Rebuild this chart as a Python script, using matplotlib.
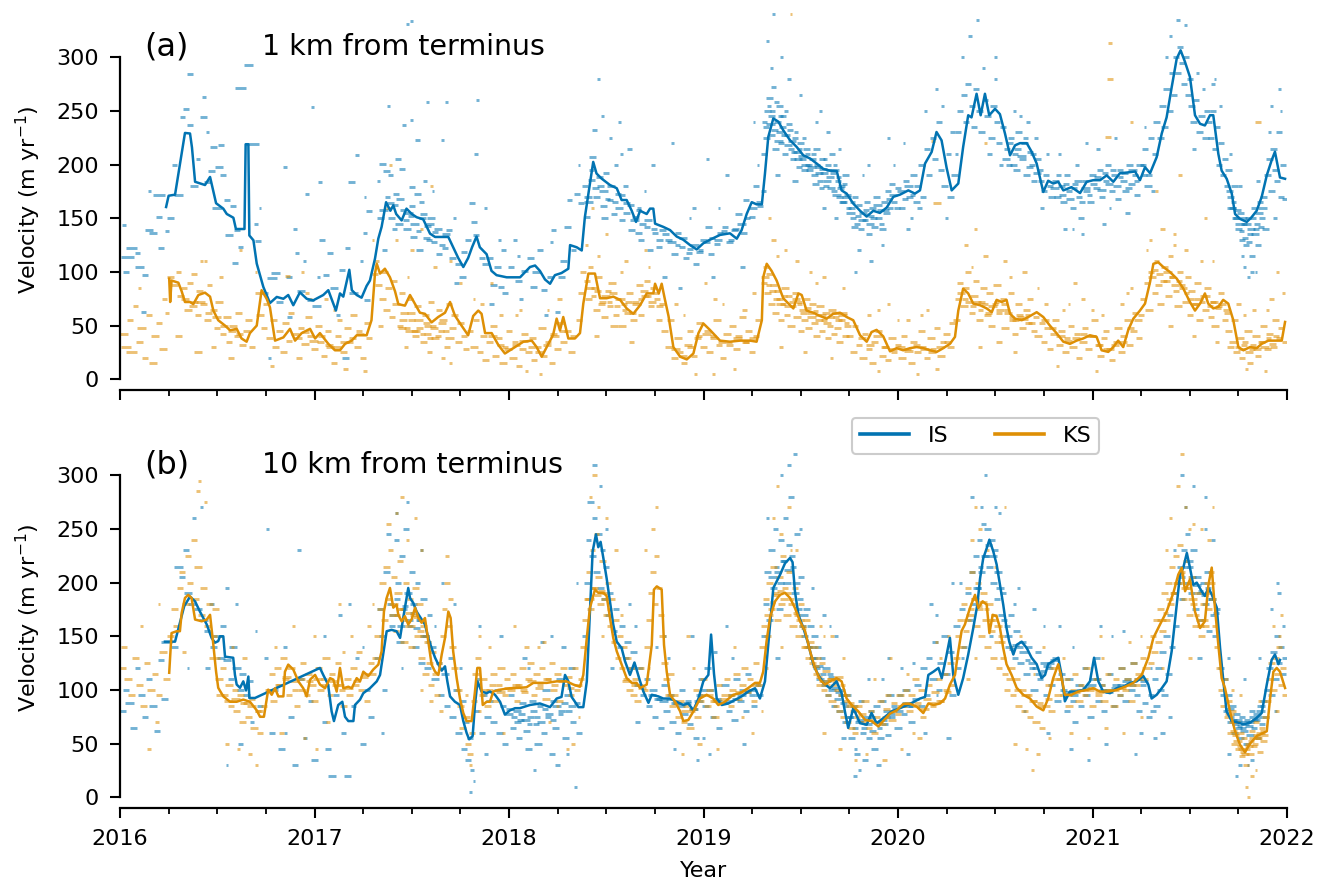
import numpy as np
import matplotlib
matplotlib.use("Agg")
import matplotlib.pyplot as plt
from matplotlib.collections import LineCollection
from matplotlib.lines import Line2D
from matplotlib.ticker import MultipleLocator

IS_COLOR = "#0173b2"
KS_COLOR = "#de8f05"

YEARS = [2016, 2017, 2018, 2019, 2020, 2021, 2022]
Y_TICKS = [0, 50, 100, 150, 200, 250, 300]
SERIES = ["IS", "KS"]

# ---------------------------------------------------------------------------
# Smoothed velocity records (decimal year, m/yr)
# ---------------------------------------------------------------------------
is_1km_line = [
    (2016.237, 160.5), (2016.25, 171), (2016.283, 172), (2016.334, 229.5), (2016.36, 229),
    (2016.37, 216), (2016.386, 184), (2016.437, 181), (2016.463, 188.5), (2016.494, 164),
    (2016.531, 159), (2016.549, 154), (2016.583, 150.5), (2016.596, 140), (2016.640, 140),
    (2016.646, 219), (2016.660, 219), (2016.665, 134), (2016.686, 129.5), (2016.703, 107.8),
    (2016.737, 86), (2016.771, 71), (2016.806, 76.7), (2016.84, 75), (2016.865, 78.5),
    (2016.891, 69), (2016.925, 81), (2016.96, 75), (2016.993, 73.5), (2017.045, 78.5),
    (2017.071, 83), (2017.11, 64), (2017.131, 80), (2017.148, 77), (2017.179, 102),
    (2017.192, 83), (2017.217, 78.5), (2017.242, 76), (2017.268, 87), (2017.285, 92),
    (2017.311, 112.4), (2017.328, 131), (2017.345, 142), (2017.368, 165), (2017.39, 157),
    (2017.405, 162), (2017.42, 154), (2017.448, 148), (2017.473, 159), (2017.5, 154),
    (2017.525, 151), (2017.559, 149), (2017.594, 135.7), (2017.62, 132.6), (2017.688, 132.6),
    (2017.713, 123), (2017.739, 113), (2017.765, 104.6), (2017.79, 113), (2017.81, 123),
    (2017.833, 133), (2017.85, 123), (2017.885, 116.5), (2017.91, 101), (2017.936, 97),
    (2017.988, 95), (2018.005, 95), (2018.057, 95), (2018.108, 104.6), (2018.134, 106),
    (2018.159, 101), (2018.185, 93), (2018.211, 89), (2018.236, 97), (2018.27, 99),
    (2018.305, 103), (2018.314, 125), (2018.348, 123), (2018.374, 120), (2018.39, 151),
    (2018.416, 182), (2018.433, 202.5), (2018.45, 191.7), (2018.476, 187), (2018.519, 181),
    (2018.554, 178), (2018.579, 167), (2018.605, 167), (2018.631, 157), (2018.653, 146.6),
    (2018.674, 157), (2018.708, 154), (2018.725, 159), (2018.742, 159), (2018.751, 145),
    (2018.793, 142), (2018.828, 139), (2018.862, 133), (2018.896, 130), (2018.931, 125),
    (2018.965, 121), (2018.999, 126.7), (2019.033, 130), (2019.085, 134.5), (2019.136, 136),
    (2019.171, 131), (2019.196, 139), (2019.222, 154), (2019.248, 165), (2019.273, 163),
    (2019.30, 163), (2019.316, 191.7), (2019.333, 225.8), (2019.359, 243), (2019.385, 240),
    (2019.41, 232), (2019.445, 222.7), (2019.479, 216.5), (2019.513, 208.7), (2019.548, 205.7),
    (2019.582, 201), (2019.616, 196), (2019.65, 194.4), (2019.685, 194), (2019.71, 176),
    (2019.736, 173), (2019.77, 163.7), (2019.805, 157), (2019.839, 151.6), (2019.873, 157),
    (2019.907, 155), (2019.942, 160), (2019.976, 170), (2020.01, 172), (2020.053, 176),
    (2020.087, 173), (2020.113, 176), (2020.139, 201), (2020.173, 211.8), (2020.198, 230.4),
    (2020.224, 222.6), (2020.25, 197), (2020.276, 176), (2020.31, 182.4), (2020.335, 216.5),
    (2020.361, 246), (2020.378, 244), (2020.404, 266), (2020.425, 246), (2020.447, 266),
    (2020.469, 246), (2020.499, 252), (2020.524, 247), (2020.55, 229), (2020.576, 208.7),
    (2020.602, 218), (2020.627, 220), (2020.662, 220), (2020.687, 212), (2020.713, 201),
    (2020.747, 174.5), (2020.772, 185), (2020.798, 182.4), (2020.824, 184), (2020.85, 176),
    (2020.892, 179), (2020.936, 173.5), (2020.97, 184), (2021.004, 185.5), (2021.039, 185.5),
    (2021.073, 190), (2021.107, 184), (2021.141, 192), (2021.176, 192.6), (2021.219, 193.6),
    (2021.244, 185.5), (2021.27, 197.6), (2021.296, 192), (2021.33, 207), (2021.356, 229),
    (2021.381, 244), (2021.407, 272), (2021.433, 298.8), (2021.453, 306.5), (2021.475, 296),
    (2021.501, 281.7), (2021.527, 246), (2021.553, 238), (2021.578, 236.5), (2021.604, 246),
    (2021.621, 246), (2021.647, 210), (2021.664, 194.4), (2021.69, 186.8), (2021.716, 173),
    (2021.733, 154), (2021.758, 149.5), (2021.793, 146.6), (2021.818, 151), (2021.844, 157),
    (2021.87, 170), (2021.896, 190), (2021.921, 204), (2021.938, 212), (2021.964, 188),
    (2021.99, 186.8),
]

ks_1km_line = [
    (2016.253, 93.8), (2016.258, 72), (2016.265, 92), (2016.30, 90), (2016.317, 82),
    (2016.334, 72), (2016.36, 72), (2016.377, 70), (2016.403, 78.5), (2016.437, 80.7),
    (2016.463, 77), (2016.48, 64), (2016.505, 55), (2016.54, 50), (2016.566, 45.6),
    (2016.60, 47), (2016.625, 38), (2016.651, 35), (2016.668, 43), (2016.703, 50),
    (2016.728, 83), (2016.754, 75), (2016.771, 67), (2016.797, 36), (2016.84, 39),
    (2016.874, 47), (2016.90, 36), (2016.934, 43), (2016.977, 47), (2017.003, 38),
    (2017.028, 43), (2017.071, 33), (2017.105, 27), (2017.131, 27), (2017.157, 33),
    (2017.191, 36), (2017.217, 41), (2017.268, 41), (2017.293, 55), (2017.311, 98.5),
    (2017.32, 107.6), (2017.337, 98.5), (2017.362, 103), (2017.388, 95), (2017.414, 82),
    (2017.431, 70), (2017.465, 68.6), (2017.491, 78.5), (2017.517, 70), (2017.542, 62),
    (2017.568, 61), (2017.602, 53), (2017.636, 58), (2017.671, 62), (2017.697, 72),
    (2017.722, 59.3), (2017.756, 50), (2017.79, 41), (2017.816, 59), (2017.842, 64),
    (2017.859, 61), (2017.877, 43), (2017.911, 43), (2017.945, 32), (2017.979, 24),
    (2018.005, 27), (2018.031, 30), (2018.074, 35), (2018.117, 36), (2018.142, 30),
    (2018.168, 21), (2018.194, 30), (2018.227, 41.5), (2018.245, 56.5), (2018.262, 45.5),
    (2018.279, 58), (2018.305, 38), (2018.339, 38), (2018.365, 43), (2018.382, 70.5),
    (2018.408, 98.5), (2018.442, 98.5), (2018.468, 75.5), (2018.502, 75.5), (2018.536, 77),
    (2018.571, 74), (2018.605, 66), (2018.639, 61), (2018.674, 69), (2018.708, 80),
    (2018.742, 80), (2018.751, 89), (2018.77, 80), (2018.785, 89), (2018.802, 74),
    (2018.82, 59), (2018.845, 30), (2018.88, 21), (2018.914, 18.5), (2018.948, 24),
    (2018.974, 43), (2018.999, 52), (2019.033, 46), (2019.085, 36), (2019.136, 35),
    (2019.188, 36), (2019.239, 36), (2019.273, 35), (2019.30, 55), (2019.307, 95),
    (2019.325, 107.6), (2019.35, 101), (2019.376, 92), (2019.41, 75.5), (2019.445, 69),
    (2019.462, 66), (2019.488, 80), (2019.505, 78.5), (2019.53, 64), (2019.565, 62),
    (2019.599, 59), (2019.633, 56.5), (2019.667, 61), (2019.702, 62), (2019.736, 58),
    (2019.77, 55), (2019.805, 41), (2019.839, 35), (2019.864, 44), (2019.89, 46),
    (2019.924, 40), (2019.959, 26), (2019.993, 29), (2020.027, 27), (2020.062, 29),
    (2020.096, 30), (2020.13, 29), (2020.165, 27), (2020.199, 25.5), (2020.233, 29),
    (2020.267, 33), (2020.293, 39.5), (2020.31, 64), (2020.335, 84.5), (2020.361, 80),
    (2020.387, 70.5), (2020.422, 69), (2020.456, 66), (2020.482, 62.5), (2020.507, 74),
    (2020.533, 72), (2020.558, 74), (2020.576, 61), (2020.602, 56.5), (2020.636, 55),
    (2020.67, 58), (2020.713, 62.5), (2020.747, 58), (2020.781, 50), (2020.815, 43),
    (2020.85, 35), (2020.884, 33), (2020.918, 36), (2020.952, 38), (2020.987, 41),
    (2021.021, 39.5), (2021.047, 27), (2021.081, 25.5), (2021.107, 30), (2021.132, 36),
    (2021.158, 30), (2021.184, 46), (2021.21, 56.5), (2021.244, 64), (2021.27, 70.5),
    (2021.296, 90.7), (2021.313, 107.6), (2021.338, 109), (2021.364, 104.6), (2021.398, 100),
    (2021.433, 93.8), (2021.467, 84.5), (2021.501, 72), (2021.527, 64), (2021.553, 70.5),
    (2021.578, 80), (2021.595, 70.5), (2021.621, 66), (2021.647, 67.5), (2021.672, 74),
    (2021.698, 70.5), (2021.724, 55), (2021.75, 30), (2021.776, 27), (2021.81, 30),
    (2021.844, 29), (2021.87, 33), (2021.904, 36), (2021.947, 36), (2021.973, 36),
    (2021.99, 53.4),
]

is_10km_line = [
    (2016.231, 145), (2016.283, 145), (2016.33, 178), (2016.36, 187), (2016.386, 182.5),
    (2016.411, 173), (2016.446, 161), (2016.471, 148.5), (2016.488, 144), (2016.505, 145.5),
    (2016.514, 150), (2016.531, 150), (2016.54, 131), (2016.582, 130), (2016.591, 114),
    (2016.60, 105), (2016.617, 102), (2016.634, 108), (2016.648, 99.5), (2016.66, 112.5),
    (2016.665, 92.5), (2016.694, 92.5), (2017.028, 120.5), (2017.045, 114), (2017.07, 105),
    (2017.088, 80), (2017.10, 71), (2017.122, 86), (2017.143, 89), (2017.157, 75),
    (2017.174, 71), (2017.20, 71), (2017.208, 86), (2017.234, 91), (2017.251, 97),
    (2017.285, 101.6), (2017.32, 108), (2017.337, 114), (2017.35, 129.8), (2017.371, 154.7),
    (2017.396, 156), (2017.422, 154.7), (2017.44, 148.5), (2017.456, 167), (2017.473, 185.7),
    (2017.482, 195), (2017.491, 185.7), (2017.508, 181), (2017.525, 173), (2017.55, 166),
    (2017.568, 161), (2017.585, 148.5), (2017.602, 139), (2017.62, 130), (2017.636, 124),
    (2017.654, 118), (2017.671, 122), (2017.683, 108), (2017.697, 94), (2017.722, 89),
    (2017.748, 86), (2017.765, 71), (2017.782, 60), (2017.795, 54), (2017.813, 57),
    (2017.825, 86), (2017.838, 108), (2017.859, 98.5), (2017.885, 97), (2017.902, 98.5),
    (2017.928, 95.5), (2017.954, 89), (2017.979, 77), (2018.005, 81), (2018.031, 83),
    (2018.056, 83), (2018.108, 86), (2018.159, 87.4), (2018.211, 84), (2018.245, 92),
    (2018.27, 93.5), (2018.288, 114), (2018.305, 108), (2018.322, 93.5), (2018.339, 89),
    (2018.357, 84), (2018.382, 84), (2018.40, 108), (2018.416, 173), (2018.43, 229),
    (2018.447, 245), (2018.459, 233), (2018.471, 238), (2018.485, 223), (2018.502, 204),
    (2018.519, 182.6), (2018.536, 161), (2018.554, 145), (2018.579, 139), (2018.596, 127),
    (2018.622, 114), (2018.645, 125.6), (2018.674, 108), (2018.691, 98.5), (2018.717, 88),
    (2018.734, 95.5), (2018.768, 94), (2018.793, 92), (2018.828, 92), (2018.862, 89),
    (2018.896, 86), (2018.922, 87.4), (2018.948, 81), (2018.974, 92), (2018.999, 108),
    (2019.025, 114), (2019.039, 151.6), (2019.054, 115), (2019.068, 92), (2019.094, 86),
    (2019.128, 87.4), (2019.162, 90.7), (2019.196, 94), (2019.23, 98.5), (2019.265, 101.6),
    (2019.29, 92), (2019.316, 108), (2019.333, 142), (2019.359, 195), (2019.394, 207.5),
    (2019.419, 218), (2019.445, 223), (2019.458, 219), (2019.47, 192), (2019.488, 170),
    (2019.513, 158), (2019.539, 142.7), (2019.565, 123.6), (2019.59, 114), (2019.616, 106.6),
    (2019.65, 101.6), (2019.684, 108), (2019.71, 97), (2019.727, 80), (2019.744, 64.6),
    (2019.77, 83), (2019.805, 69), (2019.839, 67.6), (2019.864, 78.5), (2019.89, 69),
    (2019.924, 73.6), (2019.967, 80), (2020.01, 83), (2020.062, 87), (2020.113, 92),
    (2020.139, 93.5), (2020.156, 114), (2020.182, 117), (2020.208, 120.5), (2020.225, 111),
    (2020.247, 130), (2020.267, 148.5), (2020.284, 114), (2020.31, 95.5), (2020.335, 111),
    (2020.361, 133), (2020.387, 157.7), (2020.408, 179.5), (2020.422, 204), (2020.438, 222.5),
    (2020.456, 232), (2020.47, 240), (2020.49, 229), (2020.507, 217), (2020.524, 198),
    (2020.541, 179.5), (2020.558, 157.7), (2020.572, 145), (2020.593, 133), (2020.61, 142),
    (2020.636, 145), (2020.662, 139), (2020.687, 130), (2020.713, 124), (2020.738, 111),
    (2020.756, 114), (2020.772, 124), (2020.798, 127), (2020.824, 130), (2020.841, 114),
    (2020.858, 89.4), (2020.884, 98.5), (2020.918, 98.5), (2020.952, 100), (2020.987, 108),
    (2021.008, 130), (2021.03, 108), (2021.055, 98.5), (2021.09, 97), (2021.124, 101.6),
    (2021.158, 103), (2021.193, 106.6), (2021.227, 108), (2021.261, 113), (2021.287, 105),
    (2021.304, 92), (2021.33, 95.5), (2021.356, 101.6), (2021.381, 108), (2021.407, 136),
    (2021.429, 173), (2021.45, 207.5), (2021.467, 214), (2021.485, 227.6), (2021.501, 214),
    (2021.518, 198), (2021.536, 200), (2021.561, 192), (2021.578, 187.6), (2021.596, 195),
    (2021.613, 189), (2021.639, 176.7), (2021.656, 139), (2021.673, 108), (2021.689, 80),
    (2021.716, 71), (2021.75, 69.5), (2021.776, 68), (2021.81, 69.5), (2021.844, 74),
    (2021.87, 78.5), (2021.896, 105), (2021.921, 128), (2021.938, 133), (2021.956, 124),
    (2021.964, 128),
]

ks_10km_line = [
    (2016.253, 116), (2016.265, 153), (2016.291, 154.7), (2016.308, 154.7), (2016.317, 171.7),
    (2016.334, 185.7), (2016.351, 188.6), (2016.368, 185.7), (2016.386, 165.6), (2016.42, 164),
    (2016.446, 165.6), (2016.463, 170), (2016.48, 142), (2016.494, 117), (2016.505, 102),
    (2016.531, 94), (2016.566, 89), (2016.60, 89), (2016.634, 91), (2016.668, 89),
    (2016.703, 81), (2016.72, 75), (2016.74, 75), (2016.762, 100.3), (2016.78, 95.5),
    (2016.797, 101.6), (2016.814, 94), (2016.84, 94), (2016.848, 117), (2016.865, 123.6),
    (2016.891, 119), (2016.917, 108), (2016.942, 101.6), (2016.96, 94), (2016.977, 109.6),
    (2017.003, 114), (2017.028, 105), (2017.054, 101.6), (2017.08, 111), (2017.097, 109.6),
    (2017.114, 98.5), (2017.131, 120.5), (2017.148, 101.6), (2017.174, 103), (2017.191, 101.6),
    (2017.217, 111), (2017.234, 108), (2017.251, 117), (2017.277, 113), (2017.302, 119),
    (2017.328, 123.6), (2017.345, 136), (2017.357, 173), (2017.371, 185.7), (2017.388, 195),
    (2017.405, 176.7), (2017.422, 179.5), (2017.431, 170), (2017.448, 164), (2017.465, 168.7),
    (2017.482, 161), (2017.50, 166), (2017.517, 176.7), (2017.534, 167), (2017.551, 162.6),
    (2017.568, 167), (2017.585, 145), (2017.602, 123.6), (2017.62, 117), (2017.637, 114),
    (2017.654, 133), (2017.671, 148.5), (2017.688, 173), (2017.70, 167), (2017.713, 136),
    (2017.731, 111), (2017.748, 92), (2017.765, 78.5), (2017.782, 71), (2017.808, 71),
    (2017.825, 98.5), (2017.837, 120.5), (2017.851, 120.5), (2017.865, 86), (2017.885, 89),
    (2017.902, 89), (2017.919, 98.5), (2017.945, 100), (2018.005, 101.6), (2018.056, 102),
    (2018.09, 102.5), (2018.125, 106.6), (2018.194, 106.6), (2018.245, 108), (2018.296, 108),
    (2018.331, 105), (2018.365, 103), (2018.382, 114), (2018.40, 148.5), (2018.416, 176.4),
    (2018.442, 193.5), (2018.459, 190.5), (2018.485, 190.5), (2018.502, 187.6), (2018.519, 167.5),
    (2018.536, 148.5), (2018.554, 136), (2018.579, 123.6), (2018.605, 111), (2018.631, 106.6),
    (2018.656, 106.6), (2018.674, 101.8), (2018.708, 105), (2018.734, 142), (2018.745, 193.5),
    (2018.76, 196.5), (2018.785, 193.5), (2018.797, 142), (2018.811, 117), (2018.828, 95.5),
    (2018.854, 89), (2018.88, 80), (2018.896, 71), (2018.922, 72), (2018.948, 80),
    (2018.982, 92), (2019.016, 95.5), (2019.05, 92), (2019.076, 86), (2019.11, 89),
    (2019.153, 95.5), (2019.188, 97), (2019.23, 101.8), (2019.265, 106.6), (2019.29, 106.6),
    (2019.307, 117), (2019.324, 145), (2019.342, 167.5), (2019.368, 182.6), (2019.393, 188.6),
    (2019.419, 190.5), (2019.445, 185.7), (2019.47, 176.4), (2019.496, 164), (2019.522, 155),
    (2019.548, 136), (2019.573, 120.5), (2019.599, 109.6), (2019.625, 105), (2019.65, 108),
    (2019.684, 111), (2019.71, 108), (2019.736, 92), (2019.762, 86), (2019.796, 80),
    (2019.831, 72), (2019.864, 71), (2019.899, 66), (2019.924, 71), (2019.959, 78),
    (2019.993, 81), (2020.027, 87), (2020.062, 87), (2020.096, 84.5), (2020.13, 78.5),
    (2020.156, 87.4), (2020.182, 86), (2020.216, 87.4), (2020.242, 92), (2020.267, 105),
    (2020.293, 114), (2020.31, 136), (2020.327, 155), (2020.344, 161), (2020.37, 176.4),
    (2020.396, 188.6), (2020.413, 176.4), (2020.435, 182.6), (2020.456, 179.5), (2020.47, 153),
    (2020.487, 170), (2020.507, 168.7), (2020.524, 158), (2020.541, 139), (2020.558, 124),
    (2020.584, 114), (2020.61, 102), (2020.644, 95.5), (2020.679, 92), (2020.713, 84.5),
    (2020.747, 81), (2020.772, 92), (2020.798, 111), (2020.824, 124), (2020.841, 111),
    (2020.858, 95.5), (2020.892, 95.5), (2020.926, 98.5), (2020.97, 100), (2021.004, 101.6),
    (2021.039, 98.5), (2021.081, 98.5), (2021.124, 100), (2021.167, 103), (2021.21, 106.6),
    (2021.253, 114), (2021.287, 130), (2021.313, 148.5), (2021.347, 161), (2021.381, 173),
    (2021.416, 190.5), (2021.441, 207.5), (2021.459, 214), (2021.476, 192), (2021.501, 203),
    (2021.527, 173), (2021.553, 157.7), (2021.578, 164), (2021.596, 198), (2021.613, 214),
    (2021.625, 185.7), (2021.647, 142), (2021.664, 111), (2021.681, 101.8), (2021.707, 80),
    (2021.733, 61.5), (2021.758, 49), (2021.784, 42), (2021.81, 50), (2021.844, 57),
    (2021.878, 60), (2021.896, 61.5), (2021.913, 92), (2021.93, 117), (2021.947, 120.5),
    (2021.964, 117), (2021.99, 101.8),
]

# ---------------------------------------------------------------------------
# Individual image-pair velocities: (centre date, m/yr, pair span in days)
# ---------------------------------------------------------------------------
is_1km_pairs = [
    (2016.02,144,8),(2016.04,114,24),(2016.06,122,20),(2016.03,100,12),(2016.10,105,18),(2016.13,97,12),
    (2016.15,139,14),(2016.17,136,16),(2016.20,151,10),(2016.21,122,10),(2016.20,172,22),(2016.26,150,12),
    (2016.09,118,10),(2016.12,63,10),(2016.24,138,8),
    (2016.32,244,10),(2016.34,252,12),(2016.36,237,10),(2016.36,284,10),(2016.43,244,12),(2016.43,263,8),
    (2016.48,216,12),(2016.52,218,12),(2016.51,198,14),(2016.53,190,10),(2016.47,194,12),(2016.55,167,12),
    (2016.58,161,12),(2016.56,134,14),(2016.60,139,12),(2016.62,123,10),(2016.59,108,12),(2016.62,271,22),
    (2016.66,293,18),(2016.30,172,18),(2016.38,180,16),(2016.45,184,14),(2016.40,205,8),(2016.50,160,18),
    (2016.28,200,10),(2016.68,219,24),
    (2016.71,129,12),(2016.78,94,18),(2016.80,99,18),(2016.85,198,8),(2016.87,95,12),(2016.91,118,8),
    (2016.96,173,8),(2016.87,58,10),(2016.98,74,12),(2017.04,130,12),(2017.06,97,12),(2017.08,118,12),
    (2017.14,102,12),(2017.17,122,10),(2017.19,184,12),(2017.22,209,8),(2017.26,136,8),(2017.28,157,10),
    (2017.27,74,12),(2017.16,20,12),(2016.77,20,6),(2016.99,254,6),(2017.03,184,8),(2016.74,80,16),
    (2016.82,72,14),(2016.93,82,14),(2017.01,68,16),(2017.10,85,14),(2017.20,80,16),(2016.90,140,6),
    (2017.12,60,8),(2016.70,145,8),
    (2017.35,201,12),(2017.37,194,12),(2017.39,190,10),(2017.39,164,12),(2017.42,173,12),(2017.44,168,14),
    (2017.45,196,12),(2017.47,148,12),(2017.50,161,12),(2017.50,179,12),(2017.53,173,12),(2017.55,165,10),
    (2017.56,154,12),(2017.51,133,12),(2017.54,120,12),(2017.58,143,12),(2017.59,130,12),(2017.62,137,12),
    (2017.64,117,12),(2017.67,122,12),(2017.69,139,12),(2017.38,255,6),(2017.50,334,6),(2017.48,331,6),
    (2017.68,258,6),(2017.50,242,6),(2017.46,237,6),(2017.53,223,8),(2017.66,223,6),(2017.58,258,6),
    (2017.34,150,14),(2017.41,140,10),(2017.48,155,18),(2017.60,150,14),(2017.36,120,8),(2017.43,205,10),
    (2017.57,185,8),
    (2017.71,113,12),(2017.74,107,12),(2017.76,95,12),(2017.77,119,12),(2017.81,164,10),(2017.82,147,12),
    (2017.83,134,12),(2017.86,113,12),(2017.88,107,12),(2017.90,113,12),(2017.92,88,12),(2017.94,105,12),
    (2017.96,86,12),(2017.98,80,12),(2017.84,260,6),(2017.83,210,6),(2017.79,130,10),(2017.73,90,10),
    (2017.97,120,10),(2017.91,70,8),
    (2018.01,105,12),(2018.05,92,14),(2018.08,101,12),(2018.11,113,12),(2018.125,86,12),(2018.16,120,12),
    (2018.18,83,12),(2018.21,95,12),(2018.23,139,10),(2018.25,63,10),(2018.28,110,12),(2018.30,142,12),
    (2018.31,167,10),(2018.35,173,12),(2018.37,164,12),(2018.03,130,8),(2018.14,100,16),(2018.27,95,14),
    (2018.19,60,8),(2018.33,120,10),(2018.06,75,8),
    (2018.39,180,12),(2018.40,151,12),(2018.425,186,12),(2018.43,207,12),(2018.45,170,12),(2018.47,180,12),
    (2018.485,161,12),(2018.50,192,12),(2018.52,167,12),(2018.54,154,12),(2018.56,173,12),(2018.58,148,12),
    (2018.605,164,12),(2018.63,139,12),(2018.65,151,12),(2018.665,136,12),(2018.68,130,12),(2018.44,232,8),
    (2018.48,245,6),(2018.52,225,6),(2018.57,240,6),(2018.62,215,8),(2018.46,280,6),(2018.55,200,8),
    (2018.60,180,10),(2018.41,165,16),(2018.49,150,14),(2018.67,160,8),
    (2018.71,142,12),(2018.725,120,12),(2018.75,136,12),(2018.77,123,12),(2018.79,139,12),(2018.82,130,12),
    (2018.85,117,12),(2018.87,136,12),(2018.89,123,12),(2018.91,113,12),(2018.93,121,12),(2018.96,107,12),
    (2018.98,119,12),(2019.00,130,12),(2019.025,142,12),(2019.04,117,12),(2019.07,126,12),(2019.085,136,12),
    (2019.11,142,12),(2019.14,130,12),(2019.16,139,12),(2019.18,154,12),(2019.205,136,12),(2019.22,167,12),
    (2019.25,151,12),(2019.27,180,12),(2019.29,161,12),(2018.80,95,8),(2018.88,85,8),(2018.95,160,8),
    (2019.05,95,8),(2019.12,190,8),(2019.20,105,8),(2018.74,200,6),(2019.02,205,6),
    (2019.31,210,12),(2019.32,235,12),(2019.33,250,12),(2019.34,262,12),(2019.35,228,12),(2019.35,245,14),
    (2019.36,272,10),(2019.37,215,12),(2019.38,240,12),(2019.39,255,12),(2019.39,230,12),(2019.40,220,12),
    (2019.41,245,12),(2019.42,210,12),(2019.43,228,12),(2019.44,238,12),(2019.45,215,12),(2019.46,205,12),
    (2019.47,225,12),(2019.48,212,14),(2019.49,198,12),(2019.50,220,14),(2019.51,205,12),(2019.52,195,12),
    (2019.53,215,12),(2019.54,200,14),(2019.35,290,6),(2019.36,340,6),(2019.40,300,6),(2019.44,280,6),
    (2019.33,315,6),(2019.50,265,6),(2019.38,190,10),(2019.47,185,10),(2019.31,175,10),
    (2019.56,205,14),(2019.57,190,12),(2019.58,215,12),(2019.59,198,14),(2019.60,185,12),(2019.61,205,12),
    (2019.62,192,14),(2019.63,180,12),(2019.64,200,12),(2019.65,188,14),(2019.66,210,12),(2019.67,175,12),
    (2019.68,195,14),(2019.69,185,12),(2019.70,170,12),(2019.71,180,14),(2019.72,165,12),(2019.73,190,12),
    (2019.74,172,12),(2019.58,240,6),(2019.64,230,8),(2019.70,215,6),(2019.62,160,8),(2019.68,150,8),
    (2019.76,160,12),(2019.77,150,12),(2019.78,170,12),(2019.79,145,12),(2019.80,162,12),(2019.81,140,12),
    (2019.82,155,14),(2019.83,148,12),(2019.84,165,12),(2019.85,135,12),(2019.86,152,12),(2019.87,160,14),
    (2019.88,142,12),(2019.89,170,12),(2019.90,150,12),(2019.91,158,12),(2019.92,140,12),(2019.93,165,12),
    (2019.94,155,12),(2019.95,175,12),(2019.96,160,12),(2019.97,182,12),(2019.98,165,12),(2020.00,178,12),
    (2020.02,160,12),(2020.04,185,12),(2020.06,170,12),(2020.08,190,12),(2019.80,120,8),(2019.86,110,8),
    (2019.92,125,6),(2019.85,200,6),(2019.95,225,6),(2020.05,140,8),(2019.78,100,6),
    (2020.10,180,12),(2020.12,200,12),(2020.13,170,12),(2020.15,215,12),(2020.16,190,12),(2020.18,225,12),
    (2020.19,205,12),(2020.21,240,10),(2020.22,195,12),(2020.24,180,12),(2020.26,210,10),(2020.27,170,12),
    (2020.29,190,12),(2020.14,250,6),(2020.20,270,6),(2020.25,150,6),(2020.28,230,8),(2020.11,160,8),
    (2020.31,230,12),(2020.32,250,12),(2020.34,265,10),(2020.35,240,12),(2020.36,275,10),(2020.38,255,12),
    (2020.39,235,12),(2020.40,270,12),(2020.42,250,12),(2020.43,230,12),(2020.45,260,10),(2020.46,245,12),
    (2020.48,225,12),(2020.49,255,12),(2020.51,240,12),(2020.52,220,12),(2020.54,235,12),(2020.33,300,6),
    (2020.37,320,6),(2020.41,335,6),(2020.44,290,6),(2020.47,210,8),(2020.50,300,6),(2020.53,200,8),
    (2020.56,215,12),(2020.57,200,12),(2020.58,225,12),(2020.60,210,12),(2020.61,195,14),(2020.62,230,12),
    (2020.64,205,12),(2020.65,220,12),(2020.66,190,12),(2020.68,212,12),(2020.69,200,12),(2020.70,185,12),
    (2020.72,205,12),(2020.73,195,12),(2020.75,175,12),(2020.76,190,12),(2020.78,180,12),(2020.79,170,12),
    (2020.60,250,6),(2020.67,240,8),(2020.74,160,8),(2020.71,225,6),
    (2020.81,185,12),(2020.82,170,12),(2020.84,180,12),(2020.85,165,12),(2020.87,190,12),(2020.88,175,12),
    (2020.90,160,12),(2020.91,182,12),(2020.93,170,12),(2020.94,150,12),(2020.96,185,12),(2020.97,175,12),
    (2020.99,165,12),(2021.00,190,12),(2021.02,178,12),(2021.04,195,12),(2021.05,170,12),(2021.07,185,12),
    (2021.08,200,12),(2021.10,175,12),(2021.11,190,12),(2021.13,168,12),(2021.14,195,12),(2021.16,185,12),
    (2021.17,175,12),(2021.19,200,12),(2021.20,182,12),(2021.22,190,12),(2021.23,172,12),(2020.86,140,8),
    (2020.95,135,6),(2021.03,215,8),(2021.12,225,6),(2021.18,155,8),(2020.83,210,6),(2021.06,145,8),
    (2020.92,200,8),
    (2021.26,200,12),(2021.27,215,12),(2021.29,190,12),(2021.30,225,12),(2021.32,210,12),(2021.33,240,12),
    (2021.35,225,12),(2021.36,255,12),(2021.37,235,12),(2021.38,270,12),(2021.40,250,12),(2021.41,285,12),
    (2021.42,265,12),(2021.43,300,12),(2021.44,285,12),(2021.45,310,12),(2021.46,295,12),(2021.47,275,12),
    (2021.48,300,12),(2021.49,265,12),(2021.50,280,12),(2021.51,255,12),(2021.52,240,12),(2021.53,260,12),
    (2021.55,230,12),(2021.56,245,12),(2021.58,225,12),(2021.59,250,12),(2021.40,320,6),(2021.44,335,6),
    (2021.48,330,6),(2021.52,215,8),(2021.31,175,8),(2021.57,270,6),
    (2021.60,240,12),(2021.61,225,12),(2021.62,250,12),(2021.63,215,12),(2021.64,235,12),(2021.65,200,12),
    (2021.66,220,12),(2021.67,190,12),(2021.68,205,12),(2021.69,180,12),(2021.70,195,12),(2021.71,170,12),
    (2021.72,160,12),(2021.73,180,12),(2021.74,150,12),(2021.62,275,6),(2021.66,255,6),
    (2021.75,140,12),(2021.76,155,12),(2021.77,130,12),(2021.78,145,12),(2021.79,125,12),(2021.80,150,12),
    (2021.81,135,12),(2021.82,115,12),(2021.83,160,12),(2021.84,140,12),(2021.85,125,12),(2021.86,165,12),
    (2021.87,150,12),(2021.88,170,12),(2021.89,140,12),(2021.78,105,6),(2021.80,95,6),(2021.82,100,8),
    (2021.76,180,8),(2021.85,185,8),
    (2021.90,190,14),(2021.91,205,12),(2021.92,175,12),(2021.93,215,12),(2021.94,195,12),(2021.95,185,12),
    (2021.96,230,12),(2021.97,170,12),(2021.98,200,12),(2021.99,168,10),(2021.92,255,6),(2021.96,270,6),
    (2021.94,150,8),
]

is_1km_pairs_extra = [
    (2019.315,240,10),(2019.325,225,14),(2019.335,255,8),(2019.345,238,16),(2019.355,250,10),(2019.365,232,14),
    (2019.375,258,8),(2019.385,222,16),(2019.395,245,10),(2019.405,235,14),(2019.415,228,12),(2019.425,250,8),
    (2019.435,218,16),(2019.445,232,10),(2019.455,222,14),(2019.465,212,12),(2019.475,230,8),(2019.485,205,16),
    (2019.495,215,10),(2019.505,208,14),(2019.515,225,8),(2019.525,200,16),(2019.535,210,10),(2019.545,195,14),
    (2019.555,198,16),(2019.565,210,10),(2019.575,182,14),(2019.585,200,12),(2019.595,192,16),(2019.605,178,10),
    (2019.615,196,14),(2019.625,205,8),(2019.635,185,16),(2019.645,195,10),(2019.655,178,14),(2019.665,192,12),
    (2019.675,200,8),(2019.685,172,16),(2019.695,188,10),(2019.705,178,14),(2019.715,165,12),(2019.725,182,8),
    (2019.735,170,16),(2019.745,160,10),
    (2019.755,155,16),(2019.765,165,10),(2019.775,142,14),(2019.795,152,12),(2019.815,148,16),(2019.835,158,10),
    (2019.855,145,14),(2019.875,150,12),(2019.895,162,16),(2019.915,145,10),(2019.935,158,14),(2019.955,168,12),
    (2019.975,172,16),(2019.995,160,10),(2020.015,175,14),(2020.035,168,12),(2020.055,180,16),(2020.075,172,10),
    (2020.095,165,14),
    (2020.805,178,16),(2020.825,190,10),(2020.845,172,14),(2020.865,182,12),(2020.885,168,16),(2020.905,178,10),
    (2020.925,185,14),(2020.945,165,12),(2020.965,178,16),(2020.985,172,10),(2021.005,182,14),(2021.025,188,12),
    (2021.045,176,16),(2021.065,192,10),(2021.085,182,14),(2021.105,195,12),(2021.125,180,16),(2021.145,188,10),
    (2021.165,192,14),(2021.185,178,12),(2021.205,195,16),(2021.225,185,10),(2021.245,200,14),(2021.265,190,12),
    (2021.285,180,16),
    (2020.555,205,16),(2020.575,220,10),(2020.595,200,14),(2020.615,215,12),(2020.635,208,16),(2020.655,225,10),
    (2020.675,198,14),(2020.695,210,12),(2020.715,192,16),(2020.735,185,10),
    (2021.705,175,12),(2021.715,160,16),(2021.725,165,10),(2021.735,150,14),(2021.745,158,12),(2021.755,145,16),
    (2021.765,138,10),(2021.775,150,14),(2021.785,132,12),(2021.795,145,16),(2021.805,128,10),(2021.815,140,14),
    (2021.825,150,12),(2021.835,135,16),(2021.845,145,10),(2021.855,155,14),(2021.865,142,12),(2021.875,160,16),
    (2017.355,158,16),(2017.375,170,10),(2017.395,150,14),(2017.415,162,12),(2017.435,145,16),(2017.455,158,10),
    (2017.475,140,14),(2017.495,152,12),(2017.515,145,16),(2017.535,138,10),(2017.555,150,14),(2017.575,132,12),
    (2017.595,145,16),(2017.615,128,10),(2017.635,140,14),(2017.655,125,12),(2017.675,135,16),
    (2018.405,170,16),(2018.425,195,10),(2018.445,178,14),(2018.465,188,12),(2018.485,175,16),(2018.505,168,10),
    (2018.525,180,14),(2018.545,165,12),(2018.565,160,16),(2018.585,172,10),(2018.605,155,14),(2018.625,162,12),
    (2018.645,148,16),(2018.665,158,10),(2018.685,145,14),
    (2018.715,148,16),(2018.745,140,10),(2018.775,130,14),(2018.805,135,12),(2018.835,128,16),(2018.865,125,10),
    (2018.895,132,14),(2018.925,118,12),(2018.955,125,16),(2018.985,120,10),(2019.015,128,14),(2019.045,132,12),
    (2019.075,130,16),(2019.105,138,10),(2019.135,128,14),(2019.165,140,12),(2019.195,145,16),(2019.225,150,10),
    (2019.255,160,14),(2019.285,165,12),
    (2016.15,175,5),(2016.45,230,5),(2016.72,160,5),(2016.95,110,5),(2017.02,95,5),(2017.24,110,5),
    (2017.33,185,5),(2017.61,175,5),(2017.72,150,5),(2017.95,130,5),(2018.05,115,5),(2018.22,128,5),
    (2018.36,200,5),(2018.58,210,5),(2018.70,175,5),(2018.93,150,5),(2019.08,160,5),(2019.28,200,5),
    (2019.60,250,5),(2019.82,190,5),(2019.98,200,5),(2020.07,150,5),(2020.23,255,5),(2020.30,210,5),
    (2020.50,280,5),(2020.63,245,5),(2020.77,210,5),(2020.90,140,5),(2021.09,160,5),(2021.27,235,5),
    (2021.38,300,5),(2021.54,285,5),(2021.63,280,5),(2021.71,210,5),(2021.77,115,5),(2021.84,100,5),
    (2021.91,230,5),(2021.97,250,5),(2019.26,240,5),(2018.84,220,5),(2020.03,220,5),(2020.97,220,5),
    (2017.88,160,5),(2017.26,170,5),
]

ks_1km_pairs = [
    (2016.02,42,14),(2016.03,30,18),(2016.05,55,12),(2016.06,25,20),(2016.08,68,10),(2016.10,35,14),
    (2016.11,48,16),(2016.13,20,12),(2016.15,60,12),(2016.17,15,14),(2016.18,40,16),(2016.20,52,12),
    (2016.22,28,14),(2016.23,75,10),(2016.24,62,8),
    (2016.26,95,12),(2016.28,88,14),(2016.30,100,10),(2016.31,78,14),(2016.33,85,12),(2016.35,65,14),
    (2016.36,90,12),(2016.38,72,14),(2016.40,60,12),(2016.41,82,14),(2016.43,70,12),(2016.45,55,14),
    (2016.46,88,10),(2016.48,65,14),(2016.50,48,12),(2016.51,72,14),(2016.53,42,12),(2016.55,58,14),
    (2016.56,35,12),(2016.58,50,14),(2016.60,40,12),(2016.61,62,12),(2016.63,32,14),(2016.65,45,12),
    (2016.66,55,12),(2016.68,30,12),(2016.30,40,12),(2016.40,25,14),(2016.48,30,10),(2016.57,20,10),
    (2016.44,110,6),(2016.62,120,6),(2016.38,98,10),(2016.52,95,8),
    (2016.71,80,12),(2016.72,60,14),(2016.74,48,12),(2016.75,70,12),(2016.77,38,14),(2016.79,55,12),
    (2016.80,30,14),(2016.82,45,12),(2016.84,25,12),(2016.85,52,14),(2016.87,36,12),(2016.88,62,10),
    (2016.90,42,14),(2016.92,20,12),(2016.93,48,12),(2016.95,33,14),(2016.97,58,12),(2016.98,40,14),
    (2017.00,28,12),(2017.02,50,12),(2017.03,35,14),(2017.05,22,12),(2017.07,45,12),(2017.08,30,14),
    (2017.10,15,12),(2017.12,40,12),(2017.13,55,10),(2017.15,25,14),(2017.17,48,12),(2017.18,35,12),
    (2017.20,60,12),(2017.22,30,14),(2017.23,45,12),(2017.25,20,12),(2017.27,52,12),(2017.28,38,12),
    (2016.86,96,10),(2016.96,80,8),(2017.06,75,8),(2017.16,10,8),(2017.26,8,6),(2016.78,12,8),
    (2016.94,100,6),
    (2017.31,98,12),(2017.32,110,10),(2017.33,88,12),(2017.35,75,14),(2017.36,100,12),(2017.37,65,12),
    (2017.38,85,14),(2017.40,58,12),(2017.41,92,12),(2017.42,70,14),(2017.44,50,12),(2017.45,80,12),
    (2017.46,62,14),(2017.48,45,12),(2017.49,75,12),(2017.50,55,14),(2017.52,40,12),(2017.53,68,12),
    (2017.54,48,14),(2017.56,35,12),(2017.57,60,12),(2017.58,42,14),(2017.60,72,12),(2017.61,50,12),
    (2017.62,38,14),(2017.64,65,12),(2017.65,45,12),(2017.66,55,14),(2017.68,30,12),(2017.69,70,12),
    (2017.71,48,12),(2017.72,60,12),(2017.74,35,14),(2017.75,52,12),(2017.77,40,12),(2017.78,28,12),
    (2017.38,160,8),(2017.39,200,6),(2017.42,130,6),(2017.50,120,8),(2017.55,140,6),(2017.62,105,8),
    (2017.70,110,6),(2017.34,50,10),(2017.47,30,8),(2017.59,25,10),(2017.66,20,8),(2017.45,48,16),
    (2017.52,45,16),(2017.58,50,14),
    (2017.80,45,12),(2017.82,30,14),(2017.83,55,12),(2017.85,25,12),(2017.87,40,14),(2017.88,18,12),
    (2017.90,35,12),(2017.92,50,14),(2017.93,22,12),(2017.95,38,12),(2017.97,15,14),(2017.98,30,12),
    (2018.00,45,12),(2018.02,20,14),(2018.03,35,12),(2018.05,12,12),(2018.07,28,14),(2018.08,42,12),
    (2018.10,25,12),(2018.12,38,14),(2018.13,18,12),(2018.15,30,12),(2018.17,48,14),(2018.18,22,12),
    (2018.20,35,12),(2018.22,15,12),(2018.23,42,14),(2018.25,28,12),(2018.27,52,12),(2018.28,35,12),
    (2018.30,45,12),(2018.32,25,14),(2018.33,40,12),(2017.86,70,8),(2017.96,60,8),(2018.06,65,6),
    (2018.16,5,6),(2018.26,75,8),(2018.09,8,6),(2017.91,90,6),
    (2018.36,55,12),(2018.37,80,12),(2018.38,100,10),(2018.40,92,12),(2018.41,75,14),(2018.42,105,10),
    (2018.44,85,12),(2018.45,65,14),(2018.46,95,12),(2018.48,72,12),(2018.49,58,14),(2018.51,82,12),
    (2018.52,68,12),(2018.53,90,14),(2018.55,60,12),(2018.56,75,12),(2018.58,50,14),(2018.59,70,12),
    (2018.61,62,12),(2018.62,80,14),(2018.64,55,12),(2018.65,72,12),(2018.67,88,12),(2018.68,60,12),
    (2018.70,78,14),(2018.71,92,12),(2018.73,68,12),(2018.74,85,12),(2018.76,75,12),(2018.77,55,12),
    (2018.79,70,12),(2018.40,125,6),(2018.50,135,6),(2018.60,110,8),(2018.70,120,6),(2018.45,40,8),
    (2018.63,35,8),(2018.54,50,16),(2018.43,160,6),
    (2018.80,45,12),(2018.82,30,14),(2018.83,55,12),(2018.85,20,12),(2018.87,38,14),(2018.88,25,12),
    (2018.90,15,12),(2018.92,32,14),(2018.93,45,12),(2018.95,22,12),(2018.97,38,14),(2018.98,52,12),
    (2019.00,30,12),(2019.02,45,14),(2019.03,25,12),(2019.05,40,12),(2019.07,55,14),(2019.08,32,12),
    (2019.10,20,12),(2019.12,42,14),(2019.13,35,12),(2019.15,50,12),(2019.17,28,14),(2019.18,40,12),
    (2019.20,58,12),(2019.22,35,12),(2019.23,45,14),(2019.25,25,12),(2019.27,40,12),(2019.28,55,12),
    (2018.86,70,8),(2018.96,5,6),(2019.06,75,8),(2019.16,10,6),(2019.26,80,6),(2019.01,90,6),(2019.21,65,10),
    (2019.31,90,12),(2019.32,105,12),(2019.33,80,14),(2019.34,98,12),(2019.35,70,12),(2019.36,88,14),
    (2019.37,62,12),(2019.38,82,12),(2019.39,75,14),(2019.40,55,12),(2019.41,70,12),(2019.42,85,14),
    (2019.43,60,12),(2019.44,78,12),(2019.45,50,14),(2019.46,68,12),(2019.47,80,12),(2019.48,58,14),
    (2019.49,72,12),(2019.50,45,12),(2019.51,65,14),(2019.52,55,12),(2019.53,75,12),(2019.54,48,14),
    (2019.55,62,12),(2019.56,70,12),(2019.57,52,14),(2019.58,40,12),(2019.59,60,12),(2019.60,68,14),
    (2019.61,45,12),(2019.62,55,12),(2019.63,62,14),(2019.64,38,12),(2019.65,50,12),(2019.66,65,14),
    (2019.67,42,12),(2019.68,58,12),(2019.69,48,14),(2019.70,35,12),(2019.71,55,12),(2019.72,62,12),
    (2019.73,40,12),(2019.74,50,12),(2019.36,130,8),(2019.42,120,6),(2019.48,110,8),(2019.55,100,6),
    (2019.62,95,8),(2019.40,30,8),(2019.52,25,8),(2019.66,20,6),(2019.34,150,6),
    (2019.75,40,12),(2019.77,25,14),(2019.78,50,12),(2019.80,32,12),(2019.82,20,14),(2019.83,42,12),
    (2019.85,28,12),(2019.87,15,14),(2019.88,35,12),(2019.90,45,12),(2019.92,22,14),(2019.93,30,12),
    (2019.95,18,12),(2019.97,38,14),(2019.98,25,12),(2020.00,32,12),(2020.02,20,14),(2020.03,40,12),
    (2020.05,28,12),(2020.07,15,14),(2020.08,35,12),(2020.10,25,12),(2020.12,45,14),(2020.13,30,12),
    (2020.15,20,12),(2020.17,38,14),(2020.18,28,12),(2020.20,48,12),(2020.22,22,14),(2020.23,35,12),
    (2020.25,42,12),(2020.27,30,12),(2020.28,52,12),(2019.85,60,8),(2019.95,70,6),(2020.05,55,8),
    (2020.15,65,6),(2019.90,8,6),(2020.10,5,6),(2020.20,10,8),(2020.20,164,14),(2020.18,222,6),
    (2020.30,55,12),(2020.31,75,12),(2020.32,90,12),(2020.34,68,14),(2020.35,85,12),(2020.36,100,10),
    (2020.38,62,12),(2020.39,78,14),(2020.40,92,12),(2020.42,55,12),(2020.43,72,14),(2020.44,85,12),
    (2020.46,60,12),(2020.47,80,14),(2020.48,50,12),(2020.50,70,12),(2020.51,88,14),(2020.52,62,12),
    (2020.54,75,12),(2020.55,48,14),(2020.56,65,12),(2020.58,80,12),(2020.59,55,14),(2020.60,42,12),
    (2020.62,70,12),(2020.63,58,14),(2020.64,48,12),(2020.66,65,12),(2020.67,52,14),(2020.68,75,12),
    (2020.70,45,12),(2020.35,125,6),(2020.45,115,8),(2020.55,110,6),(2020.65,100,8),(2020.42,30,8),
    (2020.60,25,8),(2020.40,140,6),(2020.52,35,10),
    (2020.71,58,12),(2020.72,40,14),(2020.74,52,12),(2020.75,35,12),(2020.77,48,14),(2020.78,28,12),
    (2020.80,42,12),(2020.81,55,14),(2020.83,32,12),(2020.84,45,12),(2020.86,25,14),(2020.87,38,12),
    (2020.89,50,12),(2020.90,30,14),(2020.92,42,12),(2020.93,20,12),(2020.95,35,14),(2020.96,48,12),
    (2020.98,28,12),(2021.00,40,14),(2021.01,55,12),(2021.03,32,12),(2021.04,22,14),(2021.06,38,12),
    (2021.07,45,12),(2021.09,28,14),(2021.10,18,12),(2021.12,35,12),(2021.13,48,14),(2021.15,25,12),
    (2021.16,40,12),(2021.18,55,14),(2021.19,32,12),(2021.21,45,12),(2021.22,62,12),(2021.24,38,12),
    (2020.76,70,8),(2020.85,65,6),(2020.95,75,8),(2021.05,60,6),(2021.15,70,8),(2020.82,12,6),
    (2021.02,8,6),(2021.20,85,6),(2020.91,90,6),(2021.09,280,10),(2021.08,226,12),(2021.09,313,6),
    (2021.25,60,12),(2021.26,75,12),(2021.28,90,12),(2021.29,65,14),(2021.30,100,12),(2021.32,80,12),
    (2021.33,110,10),(2021.34,88,12),(2021.35,70,14),(2021.37,105,12),(2021.38,92,12),(2021.39,78,14),
    (2021.40,115,10),(2021.41,95,12),(2021.43,82,12),(2021.44,68,14),(2021.45,100,12),(2021.46,88,12),
    (2021.48,72,14),(2021.49,95,12),(2021.50,60,12),(2021.51,82,14),(2021.53,70,12),(2021.54,90,12),
    (2021.55,55,14),(2021.57,78,12),(2021.58,65,12),(2021.59,85,14),(2021.61,58,12),(2021.62,72,12),
    (2021.63,50,14),(2021.65,68,12),(2021.66,80,12),(2021.68,55,12),(2021.69,62,12),(2021.30,130,6),
    (2021.36,140,8),(2021.42,125,6),(2021.48,120,8),(2021.56,110,6),(2021.33,175,6),(2021.45,190,6),
    (2021.52,40,8),(2021.64,35,8),(2021.40,50,10),(2021.58,150,6),(2021.85,240,12),
    (2021.70,45,12),(2021.71,30,14),(2021.73,55,12),(2021.74,25,12),(2021.76,38,14),(2021.77,20,12),
    (2021.78,32,12),(2021.80,45,14),(2021.81,15,12),(2021.82,28,12),(2021.84,40,14),(2021.85,22,12),
    (2021.87,35,12),(2021.88,50,14),(2021.90,28,12),(2021.91,42,12),(2021.93,30,14),(2021.94,55,12),
    (2021.96,38,12),(2021.97,48,12),(2021.99,35,10),(2021.75,70,8),(2021.83,65,6),(2021.92,75,8),
    (2021.98,80,6),(2021.79,10,6),(2021.89,8,6),(2021.95,100,6),
]

ks_1km_pairs_extra = [
    (2017.455,55,16),(2017.475,48,10),(2017.495,62,14),(2017.515,45,12),(2017.535,55,16),(2017.555,42,10),
    (2017.575,52,14),(2017.595,38,12),(2017.615,48,16),(2017.635,40,10),(2017.655,52,14),(2017.675,45,12),
    (2017.695,38,16),
    (2018.415,85,16),(2018.435,78,10),(2018.455,82,14),(2018.475,70,12),(2018.495,78,16),(2018.515,72,10),
    (2018.535,80,14),(2018.555,68,12),(2018.575,75,16),(2018.595,65,10),(2018.615,72,14),(2018.635,62,12),
    (2018.655,70,16),(2018.675,75,10),(2018.695,82,14),(2018.715,78,12),(2018.735,72,16),(2018.755,80,10),
    (2018.775,68,14),
    (2019.315,95,16),(2019.335,88,10),(2019.355,82,14),(2019.375,75,12),(2019.395,70,16),(2019.415,78,10),
    (2019.435,68,14),(2019.455,72,12),(2019.475,75,16),(2019.495,70,10),(2019.515,62,14),(2019.535,66,12),
    (2019.555,58,16),(2019.575,64,10),(2019.595,55,14),(2019.615,60,12),(2019.635,52,16),(2019.655,58,10),
    (2019.675,62,14),(2019.695,55,12),(2019.715,60,16),(2019.735,52,10),
    (2020.325,80,16),(2020.345,75,10),(2020.365,72,14),(2020.385,68,12),(2020.405,72,16),(2020.425,65,10),
    (2020.445,70,14),(2020.465,62,12),(2020.485,68,16),(2020.505,72,10),(2020.525,65,14),(2020.545,70,12),
    (2020.565,62,16),(2020.585,58,10),(2020.605,55,14),(2020.625,60,12),(2020.645,56,16),(2020.665,60,10),
    (2020.685,52,14),
    (2021.305,95,16),(2021.325,102,10),(2021.345,98,14),(2021.365,92,12),(2021.385,100,16),(2021.405,95,10),
    (2021.425,88,14),(2021.445,92,12),(2021.465,85,16),(2021.485,80,10),(2021.505,75,14),(2021.525,70,12),
    (2021.545,75,16),(2021.565,72,10),(2021.585,78,14),(2021.605,68,12),(2021.625,72,16),(2021.645,66,10),
    (2021.665,70,14),(2021.685,65,12),
    (2021.725,35,16),(2021.745,30,10),(2021.765,28,14),(2021.785,35,12),(2021.805,25,16),(2021.825,32,10),
    (2021.845,28,14),(2021.865,35,12),(2021.885,30,16),(2021.905,38,10),(2021.925,33,14),(2021.945,40,12),
    (2016.335,75,16),(2016.375,68,14),(2016.415,72,16),(2016.455,62,14),(2016.495,58,16),(2016.535,50,14),
    (2016.575,45,16),(2016.615,42,14),
    (2016.915,38,16),(2016.955,44,14),(2016.995,36,16),(2017.035,40,14),(2017.075,32,16),(2017.115,30,14),
    (2017.155,35,16),(2017.195,38,14),(2017.235,42,16),
    (2017.915,40,16),(2017.955,32,14),(2017.995,28,16),(2018.035,32,14),(2018.075,36,16),(2018.115,30,14),
    (2018.155,25,16),(2018.195,32,14),(2018.235,40,16),(2018.275,45,14),
    (2018.855,28,16),(2018.895,22,14),(2018.935,30,16),(2018.975,40,14),(2019.015,42,16),(2019.055,38,14),
    (2019.095,35,16),(2019.135,32,14),(2019.175,38,16),(2019.215,35,14),(2019.255,38,16),
    (2019.815,38,16),(2019.855,32,14),(2019.895,40,16),(2019.935,30,14),(2019.975,28,16),(2020.015,30,14),
    (2020.055,26,16),(2020.095,32,14),(2020.135,28,16),(2020.175,25,14),(2020.215,30,16),(2020.255,35,14),
    (2020.755,55,16),(2020.795,48,14),(2020.835,40,16),(2020.875,36,14),(2020.915,38,16),(2020.955,42,14),
    (2020.995,40,16),(2021.035,32,14),(2021.075,28,16),(2021.115,32,14),(2021.155,35,16),(2021.195,48,14),
    (2021.235,55,16),
    (2016.10,85,5),(2016.42,110,5),(2016.70,100,5),(2016.98,75,5),(2017.10,65,5),(2017.30,130,5),
    (2017.48,95,5),(2017.60,180,5),(2017.75,90,5),(2017.82,75,5),(2018.04,60,5),(2018.20,65,5),
    (2018.46,115,5),(2018.58,100,5),(2018.72,105,5),(2018.90,60,5),(2019.10,70,5),(2019.38,115,5),
    (2019.58,90,5),(2019.72,85,5),(2019.90,65,5),(2020.00,55,5),(2020.12,60,5),(2020.38,105,5),
    (2020.58,95,5),(2020.72,85,5),(2020.88,70,5),(2021.00,65,5),(2021.18,80,5),(2021.28,120,5),
    (2021.42,135,5),(2021.62,110,5),(2021.78,60,5),(2021.90,65,5),(2019.45,340,5),(2020.45,220,5),
    (2021.20,240,5),(2019.05,5,5),(2017.70,15,5),
]

is_10km_pairs = [
    (2016.01,80,14),(2016.03,100,12),(2016.05,88,16),(2016.07,65,12),(2016.09,120,10),(2016.11,95,14),
    (2016.13,75,12),(2016.15,110,12),(2016.17,85,14),(2016.19,62,10),(2016.21,128,12),(2016.23,92,14),
    (2016.24,145,20),
    (2016.28,140,12),(2016.30,215,16),(2016.32,205,12),(2016.34,230,10),(2016.35,190,14),(2016.37,180,16),
    (2016.38,260,6),(2016.40,175,14),(2016.42,270,6),(2016.43,165,16),(2016.45,155,12),(2016.47,180,10),
    (2016.48,140,14),(2016.50,150,16),(2016.52,130,14),(2016.53,160,10),(2016.55,128,16),(2016.57,110,12),
    (2016.58,140,14),(2016.60,120,16),(2016.62,100,12),(2016.63,115,14),(2016.65,95,12),(2016.67,108,10),
    (2016.55,195,8),(2016.60,180,6),(2016.45,120,8),(2016.68,70,8),(2016.62,50,8),
    (2016.72,85,12),(2016.75,130,8),(2016.78,60,12),(2016.80,100,10),(2016.83,45,12),(2016.85,140,8),
    (2016.88,75,10),(2016.90,30,12),(2016.93,110,10),(2016.95,55,8),(2016.98,90,10),(2017.00,35,12),
    (2017.02,120,8),(2017.05,70,10),(2017.07,45,12),(2017.09,20,14),(2017.11,95,10),(2017.13,170,8),
    (2017.15,60,10),(2017.17,20,14),(2017.20,85,10),(2017.22,130,8),(2017.25,50,10),(2017.27,100,10),
    (2017.29,75,12),(2016.76,250,6),(2016.92,230,6),(2017.18,180,6),
    (2017.32,130,12),(2017.34,175,12),(2017.35,150,14),(2017.37,210,12),(2017.38,245,10),(2017.39,180,14),
    (2017.40,160,12),(2017.42,240,10),(2017.43,200,12),(2017.44,145,14),(2017.45,225,12),(2017.46,175,12),
    (2017.47,250,10),(2017.48,190,14),(2017.49,160,12),(2017.50,210,12),(2017.51,180,12),(2017.52,140,14),
    (2017.53,200,10),(2017.54,165,12),(2017.55,125,14),(2017.56,185,12),(2017.57,150,12),(2017.58,120,14),
    (2017.59,170,10),(2017.48,275,6),(2017.42,265,6),(2017.55,230,6),(2017.36,100,8),
    (2017.61,140,12),(2017.62,110,14),(2017.64,125,12),(2017.65,95,12),(2017.67,115,14),(2017.68,85,12),
    (2017.70,130,10),(2017.71,75,12),(2017.73,100,12),(2017.74,60,14),(2017.76,90,12),(2017.77,45,12),
    (2017.78,70,10),(2017.79,35,12),(2017.80,55,10),(2017.81,25,8),(2017.83,80,12),(2017.84,110,10),
    (2017.86,60,12),(2017.87,95,12),(2017.89,75,12),(2017.66,200,6),(2017.72,180,6),(2017.85,160,6),
    (2017.80,5,6),(2017.88,40,8),
    (2017.90,90,12),(2017.92,70,12),(2017.94,100,12),(2017.95,60,14),(2017.97,85,12),(2017.98,50,12),
    (2018.00,78,14),(2018.01,95,12),(2018.02,65,12),(2018.04,80,14),(2018.05,55,12),(2018.06,72,12),
    (2018.07,88,14),(2018.09,62,12),(2018.10,45,12),(2018.11,75,14),(2018.12,90,12),(2018.14,68,12),
    (2018.15,50,14),(2018.16,85,12),(2018.18,60,12),(2018.19,100,14),(2018.20,75,12),(2018.22,40,12),
    (2018.23,90,14),(2018.24,65,12),(2018.26,110,12),(2018.27,80,14),(2018.29,55,12),(2018.30,95,12),
    (2018.32,120,14),(2018.33,70,12),(2018.35,88,12),(2018.36,60,12),(2017.96,150,8),(2018.08,130,8),
    (2018.17,145,6),(2018.28,140,8),(2018.13,25,6),(2018.25,30,8),(2018.34,10,6),
    (2018.39,150,12),(2018.40,200,12),(2018.41,240,10),(2018.42,275,12),(2018.43,225,12),(2018.44,260,10),
    (2018.45,210,12),(2018.46,245,12),(2018.47,195,12),(2018.48,230,10),(2018.49,185,12),(2018.50,215,12),
    (2018.51,170,12),(2018.52,190,12),(2018.54,155,12),(2018.55,175,12),(2018.57,140,12),(2018.58,160,12),
    (2018.60,130,12),(2018.61,145,12),(2018.63,120,12),(2018.64,135,12),(2018.66,105,12),(2018.67,120,12),
    (2018.69,95,12),(2018.44,310,8),(2018.47,290,6),(2018.53,120,8),(2018.62,180,6),(2018.66,70,8),
    (2018.71,110,12),(2018.72,85,12),(2018.74,100,14),(2018.75,75,12),(2018.77,92,12),(2018.78,65,12),
    (2018.80,105,12),(2018.81,80,14),(2018.83,95,12),(2018.84,70,12),(2018.86,88,14),(2018.87,60,12),
    (2018.89,100,12),(2018.90,78,14),(2018.92,90,12),(2018.93,68,12),(2018.95,82,14),(2018.96,55,12),
    (2018.98,95,12),(2018.99,110,12),(2019.01,85,14),(2019.02,120,12),(2019.04,100,12),(2019.05,75,12),
    (2019.07,92,14),(2019.08,65,12),(2019.10,88,12),(2019.11,105,14),(2019.13,80,12),(2019.14,95,12),
    (2019.16,72,14),(2019.17,110,12),(2019.19,90,12),(2019.20,100,14),(2019.22,80,12),(2019.23,115,12),
    (2019.25,95,12),(2019.26,85,12),(2019.28,105,12),(2018.76,140,6),(2018.85,45,6),(2018.94,150,8),
    (2019.03,40,6),(2019.12,160,6),(2019.21,50,8),(2018.82,130,6),(2019.06,135,8),(2018.97,35,6),
    (2019.31,150,12),(2019.32,180,12),(2019.33,210,12),(2019.34,165,14),(2019.35,230,12),(2019.36,195,12),
    (2019.37,250,10),(2019.38,210,14),(2019.39,175,12),(2019.40,240,12),(2019.41,220,12),(2019.42,260,10),
    (2019.43,200,14),(2019.44,235,12),(2019.45,280,10),(2019.46,215,12),(2019.47,190,14),(2019.48,245,10),
    (2019.49,175,12),(2019.50,205,12),(2019.51,160,12),(2019.40,300,6),(2019.44,310,8),(2019.47,320,6),
    (2019.38,130,8),
    (2019.52,150,12),(2019.53,175,12),(2019.54,140,14),(2019.55,160,12),(2019.56,130,12),(2019.57,150,14),
    (2019.58,120,12),(2019.59,140,12),(2019.60,110,14),(2019.61,130,12),(2019.62,105,12),(2019.63,120,14),
    (2019.64,95,12),(2019.65,115,12),(2019.66,100,14),(2019.67,85,12),(2019.68,110,12),(2019.69,92,14),
    (2019.70,80,12),(2019.71,100,12),(2019.72,88,12),(2019.73,70,12),(2019.74,95,12),(2019.56,195,6),
    (2019.62,170,6),(2019.68,150,8),(2019.72,55,8),
    (2019.75,75,12),(2019.76,55,12),(2019.77,85,14),(2019.78,65,12),(2019.79,40,12),(2019.80,70,14),
    (2019.81,90,12),(2019.82,60,12),(2019.83,35,12),(2019.84,75,14),(2019.85,55,12),(2019.86,80,12),
    (2019.87,62,14),(2019.88,45,12),(2019.89,85,12),(2019.90,70,14),(2019.91,55,12),(2019.92,90,12),
    (2019.93,68,14),(2019.94,80,12),(2019.95,58,12),(2019.96,95,14),(2019.97,75,12),(2019.98,85,12),
    (2020.00,65,14),(2020.01,95,12),(2020.03,78,12),(2020.04,100,14),(2020.06,85,12),(2020.07,70,12),
    (2020.09,92,12),(2019.78,20,8),(2019.80,25,6),(2019.85,110,6),(2019.95,130,6),(2020.05,40,8),
    (2019.90,30,8),(2020.02,120,6),
    (2020.10,105,12),(2020.12,85,12),(2020.13,120,14),(2020.15,95,12),(2020.16,130,12),(2020.18,110,14),
    (2020.19,145,12),(2020.21,100,12),(2020.22,125,14),(2020.24,150,12),(2020.25,115,12),(2020.27,135,12),
    (2020.28,95,14),(2020.30,160,12),(2020.31,120,12),(2020.33,175,12),(2020.34,140,12),(2020.14,60,8),
    (2020.20,170,6),(2020.26,55,8),(2020.32,200,6),(2020.17,180,6),
    (2020.36,190,12),(2020.37,165,12),(2020.38,210,12),(2020.39,180,14),(2020.40,225,12),(2020.41,195,12),
    (2020.42,240,10),(2020.43,210,14),(2020.44,255,10),(2020.45,225,12),(2020.46,250,12),(2020.47,215,14),
    (2020.48,240,12),(2020.49,200,12),(2020.50,230,12),(2020.51,185,12),(2020.52,210,12),(2020.53,170,12),
    (2020.54,190,12),(2020.38,280,6),(2020.43,270,6),(2020.48,150,8),(2020.52,265,6),(2020.45,300,6),
    (2020.56,160,12),(2020.57,140,14),(2020.58,170,12),(2020.60,130,12),(2020.61,155,14),(2020.63,125,12),
    (2020.64,145,12),(2020.66,115,14),(2020.67,140,12),(2020.69,120,12),(2020.70,100,14),(2020.72,135,12),
    (2020.73,110,12),(2020.75,125,14),(2020.76,95,12),(2020.78,120,12),(2020.79,105,14),(2020.81,130,12),
    (2020.82,90,12),(2020.84,115,12),(2020.62,195,6),(2020.70,175,8),(2020.77,60,8),(2020.83,160,6),
    (2020.65,80,6),
    (2020.85,100,12),(2020.87,80,12),(2020.88,110,14),(2020.90,90,12),(2020.91,70,12),(2020.93,105,14),
    (2020.94,85,12),(2020.96,120,12),(2020.97,95,14),(2020.99,75,12),(2021.00,110,12),(2021.02,130,12),
    (2021.03,90,14),(2021.05,105,12),(2021.06,80,12),(2021.08,100,14),(2021.09,115,12),(2021.11,85,12),
    (2021.12,105,14),(2021.14,95,12),(2021.15,120,12),(2021.17,90,14),(2021.18,110,12),(2021.20,100,12),
    (2021.21,125,14),(2021.23,95,12),(2021.24,80,12),(2021.26,105,12),(2021.27,88,12),(2021.29,75,12),
    (2020.89,45,8),(2020.98,35,6),(2021.07,50,8),(2021.16,155,6),(2021.25,60,8),(2021.04,160,6),
    (2021.22,40,6),
    (2021.30,95,12),(2021.31,80,12),(2021.32,110,12),(2021.33,85,14),(2021.34,120,12),(2021.35,100,12),
    (2021.36,135,12),(2021.37,95,14),(2021.38,150,12),(2021.39,115,12),(2021.40,170,12),(2021.41,140,12),
    (2021.42,190,12),(2021.43,160,12),(2021.44,200,12),(2021.32,55,8),(2021.36,60,8),(2021.40,75,8),
    (2021.45,215,12),(2021.46,185,12),(2021.47,230,12),(2021.48,200,14),(2021.49,245,10),(2021.50,215,12),
    (2021.51,190,12),(2021.52,230,12),(2021.53,175,12),(2021.54,205,12),(2021.55,190,14),(2021.56,165,12),
    (2021.57,200,12),(2021.58,180,12),(2021.59,210,12),(2021.60,155,12),(2021.61,185,12),(2021.62,170,12),
    (2021.63,150,12),(2021.64,175,12),(2021.48,270,6),(2021.52,290,6),(2021.46,300,6),(2021.58,250,6),
    (2021.62,240,8),(2021.55,130,8),
    (2021.66,120,12),(2021.67,95,12),(2021.68,110,12),(2021.69,80,14),(2021.70,95,12),(2021.71,70,12),
    (2021.72,85,14),(2021.73,60,12),(2021.74,78,12),(2021.75,65,14),(2021.76,55,12),(2021.77,75,12),
    (2021.78,62,14),(2021.79,50,12),(2021.80,70,12),(2021.81,58,14),(2021.82,80,12),(2021.83,65,12),
    (2021.84,72,14),(2021.85,55,12),(2021.86,85,12),(2021.87,68,12),(2021.88,90,12),(2021.89,75,12),
    (2021.70,40,8),(2021.76,30,8),(2021.82,35,6),(2021.78,110,6),(2021.86,130,6),(2021.74,20,6),
    (2021.90,100,12),(2021.91,120,12),(2021.92,95,12),(2021.93,135,12),(2021.94,110,12),(2021.95,150,12),
    (2021.96,125,12),(2021.97,140,12),(2021.98,115,12),(2021.99,130,10),(2021.92,175,6),(2021.96,190,8),
    (2021.98,160,6),(2021.94,80,6),
]

is_10km_pairs_extra = [
    (2017.405,170,16),(2017.425,185,10),(2017.445,160,14),(2017.465,178,12),(2017.485,165,16),(2017.505,172,10),
    (2017.525,158,14),(2017.545,165,12),(2017.565,150,16),(2017.585,145,10),
    (2018.005,82,16),(2018.025,75,10),(2018.045,70,14),(2018.065,78,12),(2018.085,72,16),(2018.105,68,10),
    (2018.125,80,14),(2018.145,75,12),(2018.165,70,16),(2018.185,82,10),(2018.205,78,14),(2018.225,72,12),
    (2018.245,85,16),(2018.265,78,10),(2018.285,88,14),(2018.305,80,12),(2018.325,85,16),
    (2019.355,205,16),(2019.375,215,10),(2019.395,200,14),(2019.415,220,12),(2019.435,212,16),(2019.455,225,10),
    (2019.475,200,14),(2019.495,185,12),(2019.515,170,16),
    (2019.555,140,16),(2019.575,130,10),(2019.595,122,14),(2019.615,115,12),(2019.635,108,16),(2019.655,112,10),
    (2019.675,102,14),(2019.695,98,12),(2019.715,95,16),(2019.735,85,10),(2019.755,75,14),(2019.775,80,12),
    (2019.805,72,16),(2019.825,65,10),(2019.845,68,14),(2019.865,75,12),(2019.885,70,16),(2019.905,65,10),
    (2019.925,72,14),(2019.945,75,12),(2019.965,78,16),(2019.985,82,10),(2020.005,80,14),(2020.025,85,12),
    (2020.045,88,16),(2020.065,85,10),
    (2020.405,195,16),(2020.425,215,10),(2020.445,225,14),(2020.465,235,12),(2020.485,225,16),(2020.505,210,10),
    (2020.525,195,14),(2020.545,165,12),
    (2020.565,150,16),(2020.585,138,10),(2020.605,142,14),(2020.625,140,12),(2020.645,135,16),(2020.665,128,10),
    (2020.685,125,14),(2020.705,120,12),(2020.725,115,16),(2020.745,118,10),(2020.765,122,14),(2020.785,125,12),
    (2020.805,128,16),
    (2021.455,205,16),(2021.475,215,10),(2021.495,220,14),(2021.515,205,12),(2021.535,198,16),(2021.555,192,10),
    (2021.575,188,14),(2021.595,195,12),(2021.615,185,16),(2021.635,172,10),
    (2021.705,82,16),(2021.715,75,10),(2021.725,72,14),(2021.735,68,12),(2021.745,72,16),(2021.755,66,10),
    (2021.765,70,14),(2021.775,65,12),(2021.785,68,16),(2021.795,72,10),(2021.805,66,14),(2021.815,70,12),
    (2021.825,75,16),(2021.835,72,10),(2021.845,78,14),(2021.855,75,12),(2021.865,80,16),(2021.875,85,10),
    (2018.735,95,16),(2018.765,92,14),(2018.795,90,16),(2018.825,92,14),(2018.855,88,16),(2018.885,85,14),
    (2018.915,88,16),(2018.945,82,14),(2018.975,90,16),(2019.005,100,14),(2019.075,90,16),(2019.105,88,14),
    (2019.135,90,16),(2019.165,92,14),(2019.195,95,16),(2019.225,98,14),(2019.255,100,16),(2019.285,95,14),
    (2020.875,98,16),(2020.905,95,14),(2020.935,100,16),(2020.965,102,14),(2020.995,105,16),(2021.025,110,14),
    (2021.055,100,16),(2021.085,98,14),(2021.115,102,16),(2021.145,105,14),(2021.175,108,16),(2021.205,105,14),
    (2021.235,110,16),(2021.265,108,14),
    (2016.35,120,5),(2016.70,155,5),(2016.85,60,5),(2017.05,150,5),(2017.25,140,5),(2017.45,120,5),
    (2017.62,160,5),(2017.75,120,5),(2017.82,15,5),(2018.10,120,5),(2018.22,150,5),(2018.30,40,5),
    (2018.50,250,5),(2018.65,160,5),(2018.80,150,5),(2019.00,55,5),(2019.15,130,5),(2019.33,260,5),
    (2019.50,250,5),(2019.65,160,5),(2019.78,45,5),(2019.92,110,5),(2020.08,125,5),(2020.20,95,5),
    (2020.33,130,5),(2020.50,270,5),(2020.60,180,5),(2020.75,160,5),(2020.90,140,5),(2021.10,150,5),
    (2021.30,120,5),(2021.42,230,5),(2021.58,280,5),(2021.70,130,5),(2021.80,30,5),(2021.95,200,5),
    (2016.55,30,5),(2017.35,60,5),(2018.35,200,5),(2020.28,200,5),
]

ks_10km_pairs = [
    (2016.01,120,14),(2016.02,140,12),(2016.04,110,16),(2016.06,95,12),(2016.08,130,12),(2016.10,105,14),
    (2016.12,85,12),(2016.14,125,12),(2016.16,100,14),(2016.18,115,12),(2016.20,95,12),(2016.22,135,14),
    (2016.24,110,12),(2016.11,160,6),(2016.19,70,8),(2016.15,45,8),
    (2016.26,150,12),(2016.28,175,12),(2016.29,160,14),(2016.31,195,12),(2016.32,210,12),(2016.34,180,14),
    (2016.35,225,12),(2016.36,200,12),(2016.38,240,10),(2016.39,185,12),(2016.40,215,14),(2016.42,170,12),
    (2016.43,195,12),(2016.45,160,14),(2016.46,180,12),(2016.48,150,12),(2016.49,175,12),(2016.40,285,8),
    (2016.41,295,6),(2016.44,275,6),(2016.33,135,8),(2016.47,130,8),
    (2016.50,130,12),(2016.51,110,14),(2016.53,120,12),(2016.54,95,12),(2016.56,105,14),(2016.57,85,12),
    (2016.59,100,12),(2016.60,80,14),(2016.62,95,12),(2016.63,70,12),(2016.65,88,14),(2016.66,75,12),
    (2016.68,92,12),(2016.69,65,14),(2016.71,80,12),(2016.72,60,12),(2016.74,85,12),(2016.55,50,8),
    (2016.61,45,6),(2016.67,40,8),(2016.70,30,6),(2016.58,140,6),(2016.64,130,8),
    (2016.76,100,12),(2016.78,115,12),(2016.79,90,14),(2016.81,120,12),(2016.82,105,12),(2016.84,130,14),
    (2016.85,110,12),(2016.87,95,12),(2016.88,120,14),(2016.90,100,12),(2016.91,85,12),(2016.93,110,14),
    (2016.94,125,12),(2016.96,95,12),(2016.97,115,14),(2016.99,105,12),(2017.00,90,12),(2017.02,120,14),
    (2017.03,100,12),(2017.05,110,12),(2017.06,130,14),(2017.08,95,12),(2017.09,115,12),(2017.11,105,14),
    (2017.12,125,12),(2017.14,100,12),(2017.15,85,14),(2017.17,110,12),(2017.18,95,12),(2017.20,120,14),
    (2017.21,105,12),(2017.23,135,12),(2017.24,100,12),(2017.26,115,12),(2017.27,90,12),(2017.29,125,12),
    (2016.83,60,8),(2016.95,55,6),(2017.07,70,8),(2017.19,150,6),(2017.28,160,8),(2016.89,160,6),
    (2017.13,180,6),(2017.01,45,6),
    (2017.31,130,12),(2017.32,150,12),(2017.34,175,12),(2017.35,200,12),(2017.36,165,14),(2017.37,215,12),
    (2017.38,185,12),(2017.39,230,10),(2017.40,170,14),(2017.41,205,12),(2017.42,155,12),(2017.43,190,14),
    (2017.44,220,12),(2017.45,175,12),(2017.46,145,14),(2017.47,200,12),(2017.48,160,12),(2017.49,185,12),
    (2017.50,140,14),(2017.51,170,12),(2017.52,195,12),(2017.53,150,14),(2017.54,180,12),(2017.55,130,12),
    (2017.56,160,14),(2017.57,115,12),(2017.58,145,12),(2017.59,125,14),(2017.60,105,12),(2017.61,135,12),
    (2017.62,115,12),(2017.63,95,12),(2017.64,125,12),(2017.66,150,12),(2017.67,175,10),(2017.68,200,12),
    (2017.69,160,12),(2017.70,185,10),(2017.71,140,12),(2017.72,120,12),(2017.74,100,12),(2017.42,265,6),
    (2017.45,280,6),(2017.38,255,8),(2017.48,240,6),(2017.52,260,6),(2017.60,90,8),(2017.65,80,6),
    (2017.55,230,6),(2017.68,225,8),
    (2017.75,85,12),(2017.76,65,12),(2017.78,75,14),(2017.79,50,12),(2017.80,40,12),(2017.81,60,12),
    (2017.82,90,12),(2017.83,115,14),(2017.84,130,12),(2017.86,95,12),(2017.87,110,14),(2017.89,85,12),
    (2017.90,100,12),(2017.92,115,14),(2017.93,90,12),(2017.95,105,12),(2017.96,120,14),(2017.98,95,12),
    (2017.99,110,12),(2018.01,100,14),(2018.02,115,12),(2018.04,90,12),(2018.05,105,14),(2018.07,120,12),
    (2018.08,98,12),(2018.10,110,14),(2018.11,125,12),(2018.13,95,12),(2018.14,115,14),(2018.16,105,12),
    (2018.17,120,12),(2018.19,92,14),(2018.20,110,12),(2018.22,125,12),(2018.23,100,14),(2018.25,115,12),
    (2018.26,90,12),(2018.28,120,14),(2018.29,105,12),(2018.31,112,12),(2018.32,95,12),(2018.34,120,12),
    (2018.35,100,12),(2018.37,110,12),(2017.80,30,6),(2017.85,150,6),(2017.97,60,6),(2018.09,140,8),
    (2018.21,70,6),(2018.30,45,6),(2018.33,50,8),(2018.03,160,6),(2018.18,145,6),
    (2018.38,140,12),(2018.39,165,12),(2018.40,185,12),(2018.41,210,12),(2018.42,175,14),(2018.43,230,10),
    (2018.44,195,12),(2018.45,245,10),(2018.46,205,12),(2018.47,180,14),(2018.48,220,12),(2018.49,190,12),
    (2018.50,170,14),(2018.51,200,12),(2018.52,160,12),(2018.53,185,12),(2018.54,145,12),(2018.55,165,12),
    (2018.56,130,12),(2018.57,150,12),(2018.58,120,12),(2018.59,140,12),(2018.60,110,12),(2018.61,130,12),
    (2018.62,100,12),(2018.63,120,12),(2018.64,95,12),(2018.42,280,6),(2018.46,270,6),(2018.50,260,6),
    (2018.44,300,8),(2018.55,230,6),
    (2018.65,110,12),(2018.66,90,12),(2018.67,105,14),(2018.68,120,12),(2018.70,100,12),(2018.71,140,12),
    (2018.72,165,10),(2018.73,190,12),(2018.74,210,10),(2018.75,180,12),(2018.76,225,10),(2018.77,195,12),
    (2018.78,170,12),(2018.79,150,12),(2018.80,125,12),(2018.81,110,12),(2018.82,95,14),(2018.83,115,12),
    (2018.84,85,12),(2018.74,250,6),(2018.76,270,6),(2018.70,230,6),
    (2018.85,95,12),(2018.87,75,12),(2018.88,90,14),(2018.90,70,12),(2018.91,85,12),(2018.93,65,14),
    (2018.94,80,12),(2018.96,100,12),(2018.97,75,14),(2018.99,95,12),(2019.00,110,12),(2019.02,85,14),
    (2019.03,100,12),(2019.05,90,12),(2019.06,75,14),(2019.08,105,12),(2019.09,88,12),(2019.11,95,14),
    (2019.12,110,12),(2019.14,85,12),(2019.15,100,14),(2019.17,115,12),(2019.18,92,12),(2019.20,105,14),
    (2019.21,120,12),(2019.23,98,12),(2019.24,110,12),(2019.26,90,12),(2019.27,125,12),(2019.29,105,12),
    (2018.89,40,6),(2018.98,50,8),(2019.07,45,6),(2019.16,140,6),(2019.25,60,6),(2018.92,150,6),
    (2019.30,140,12),(2019.31,160,12),(2019.32,185,12),(2019.33,150,14),(2019.34,200,12),(2019.35,175,12),
    (2019.36,215,12),(2019.37,190,14),(2019.38,165,12),(2019.39,205,12),(2019.40,180,14),(2019.41,225,12),
    (2019.42,195,12),(2019.43,170,14),(2019.44,210,12),(2019.45,185,12),(2019.46,160,14),(2019.47,195,12),
    (2019.48,170,12),(2019.49,150,14),(2019.50,180,12),(2019.51,160,12),(2019.52,140,12),(2019.53,165,12),
    (2019.54,130,12),(2019.36,260,6),(2019.40,245,8),(2019.44,270,6),(2019.38,290,6),(2019.48,230,6),
    (2019.32,120,8),
    (2019.55,145,12),(2019.56,125,12),(2019.57,140,14),(2019.58,115,12),(2019.59,130,12),(2019.60,105,14),
    (2019.61,125,12),(2019.62,100,12),(2019.63,118,14),(2019.64,95,12),(2019.65,110,12),(2019.66,90,14),
    (2019.67,105,12),(2019.68,85,12),(2019.69,100,14),(2019.70,80,12),(2019.71,95,12),(2019.72,75,14),
    (2019.73,90,12),(2019.74,70,12),(2019.75,85,12),(2019.76,65,12),(2019.77,80,12),(2019.78,60,12),
    (2019.79,75,12),(2019.60,160,6),(2019.66,150,8),(2019.72,130,6),(2019.62,60,6),(2019.70,45,8),
    (2019.78,35,6),
    (2019.80,85,12),(2019.82,70,12),(2019.83,90,14),(2019.85,65,12),(2019.86,80,12),(2019.88,60,14),
    (2019.89,75,12),(2019.91,90,12),(2019.92,68,14),(2019.94,82,12),(2019.95,95,12),(2019.97,72,14),
    (2019.98,88,12),(2020.00,78,12),(2020.01,95,14),(2020.03,85,12),(2020.04,100,12),(2020.06,80,14),
    (2020.07,95,12),(2020.09,110,12),(2020.10,88,14),(2020.12,100,12),(2020.13,75,12),(2020.15,92,14),
    (2020.16,105,12),(2020.18,85,12),(2020.19,98,14),(2020.21,110,12),(2020.22,90,12),(2020.24,115,14),
    (2020.25,100,12),(2020.27,125,12),(2020.28,105,12),(2019.84,40,6),(2019.93,35,8),(2020.02,45,6),
    (2020.11,55,8),(2020.20,145,6),(2020.26,150,6),(2019.96,130,6),(2020.08,60,6),
    (2020.30,130,12),(2020.31,150,12),(2020.32,165,12),(2020.33,140,14),(2020.34,180,12),(2020.35,155,12),
    (2020.36,195,12),(2020.37,170,14),(2020.38,210,12),(2020.39,185,12),(2020.40,160,14),(2020.41,200,12),
    (2020.42,175,12),(2020.43,150,14),(2020.44,190,12),(2020.45,165,12),(2020.46,140,14),(2020.47,180,12),
    (2020.48,155,12),(2020.49,130,14),(2020.50,165,12),(2020.51,145,12),(2020.52,120,12),(2020.53,150,12),
    (2020.54,130,12),(2020.38,240,6),(2020.42,250,8),(2020.46,230,6),(2020.40,270,6),(2020.50,215,6),
    (2020.36,110,8),
    (2020.55,115,12),(2020.56,100,12),(2020.58,120,14),(2020.59,95,12),(2020.61,110,12),(2020.62,85,14),
    (2020.64,100,12),(2020.65,80,12),(2020.67,95,14),(2020.68,75,12),(2020.70,90,12),(2020.71,70,14),
    (2020.73,88,12),(2020.74,65,12),(2020.76,85,14),(2020.77,105,12),(2020.79,80,12),(2020.80,120,14),
    (2020.82,95,12),(2020.83,110,12),(2020.60,50,8),(2020.66,45,6),(2020.72,40,8),(2020.78,55,6),
    (2020.63,150,6),(2020.75,140,6),(2020.69,25,6),
    (2020.85,95,12),(2020.87,110,12),(2020.88,85,14),(2020.90,100,12),(2020.91,115,12),(2020.93,90,14),
    (2020.94,105,12),(2020.96,95,12),(2020.97,120,14),(2020.99,100,12),(2021.00,85,12),(2021.02,110,14),
    (2021.03,95,12),(2021.05,105,12),(2021.06,90,14),(2021.08,115,12),(2021.09,100,12),(2021.11,85,14),
    (2021.12,110,12),(2021.14,95,12),(2021.15,120,14),(2021.17,100,12),(2021.18,110,12),(2021.20,90,14),
    (2021.21,125,12),(2021.23,105,12),(2021.24,115,14),(2021.26,130,12),(2021.27,110,12),(2021.29,140,12),
    (2020.89,60,8),(2020.98,55,6),(2021.07,65,8),(2021.16,60,6),(2021.25,75,6),(2021.04,150,6),
    (2021.19,145,6),
    (2021.30,125,12),(2021.31,150,12),(2021.32,135,14),(2021.33,165,12),(2021.34,145,12),(2021.35,175,12),
    (2021.36,155,14),(2021.37,190,12),(2021.38,165,12),(2021.39,200,12),(2021.40,180,14),(2021.41,215,12),
    (2021.42,190,12),(2021.43,225,12),(2021.44,200,14),(2021.45,235,12),(2021.46,210,12),(2021.47,185,12),
    (2021.48,220,12),(2021.49,195,12),(2021.50,170,14),(2021.51,205,12),(2021.52,180,12),(2021.53,160,12),
    (2021.54,190,12),(2021.55,165,12),(2021.56,150,12),(2021.57,180,12),(2021.58,160,12),(2021.59,200,12),
    (2021.60,175,12),(2021.61,210,10),(2021.62,185,12),(2021.63,160,12),(2021.64,140,12),(2021.40,260,6),
    (2021.44,290,8),(2021.48,270,6),(2021.52,255,6),(2021.46,320,6),(2021.56,250,6),(2021.60,240,8),
    (2021.36,120,6),(2021.50,130,8),
    (2021.65,120,12),(2021.66,100,12),(2021.67,85,12),(2021.68,110,14),(2021.69,75,12),(2021.70,90,12),
    (2021.71,60,12),(2021.72,80,14),(2021.73,50,12),(2021.74,70,12),(2021.75,45,14),(2021.76,60,12),
    (2021.77,38,12),(2021.78,55,12),(2021.79,30,12),(2021.80,50,12),(2021.81,40,14),(2021.82,62,12),
    (2021.83,48,12),(2021.84,70,12),(2021.85,55,12),(2021.86,42,12),(2021.87,65,12),(2021.88,52,12),
    (2021.89,75,12),(2021.79,10,6),(2021.82,20,8),(2021.76,95,6),(2021.86,90,6),(2021.80,0,6),
    (2021.90,90,12),(2021.91,110,12),(2021.92,125,12),(2021.93,100,12),(2021.94,130,12),(2021.95,115,12),
    (2021.96,140,12),(2021.97,105,12),(2021.98,120,12),(2021.99,95,10),(2021.93,160,6),(2021.97,170,6),
    (2021.95,80,8),
]

ks_10km_pairs_extra = [
    (2017.405,180,16),(2017.425,170,10),(2017.445,175,14),(2017.465,165,12),(2017.485,172,16),(2017.505,160,10),
    (2017.525,168,14),(2017.545,155,12),(2017.565,150,16),
    (2017.875,100,16),(2017.915,105,14),(2017.955,98,16),(2017.995,102,14),(2018.035,105,16),(2018.075,100,14),
    (2018.115,108,16),(2018.155,102,14),(2018.195,110,16),(2018.235,105,14),(2018.275,108,16),(2018.315,102,14),
    (2018.355,105,16),
    (2018.415,185,16),(2018.435,195,10),(2018.455,188,14),(2018.475,192,12),(2018.495,185,16),(2018.515,175,10),
    (2019.335,170,16),(2019.355,182,10),(2019.375,188,14),(2019.395,192,12),(2019.415,185,16),(2019.435,190,10),
    (2019.455,180,14),(2019.475,172,12),(2019.495,165,16),(2019.515,158,10),
    (2019.535,140,16),(2019.555,130,10),(2019.575,122,14),(2019.595,112,12),(2019.615,108,16),(2019.635,105,10),
    (2019.655,110,14),(2019.675,108,12),(2019.695,112,16),(2019.715,105,10),(2019.735,95,14),(2019.755,88,12),
    (2019.775,85,16),
    (2019.815,78,16),(2019.855,72,14),(2019.895,70,16),(2019.935,75,14),(2019.975,80,16),(2020.015,85,14),
    (2020.055,88,16),(2020.095,85,14),(2020.135,82,16),(2020.175,88,14),(2020.215,90,16),(2020.255,98,14),
    (2020.355,165,16),(2020.375,175,10),(2020.395,185,14),(2020.415,178,12),(2020.435,182,16),(2020.455,175,10),
    (2020.475,165,14),(2020.495,170,12),(2020.515,160,16),(2020.535,145,10),
    (2020.575,110,16),(2020.615,100,14),(2020.655,95,16),(2020.695,90,14),(2020.735,85,16),(2020.775,92,14),
    (2020.815,110,16),
    (2020.875,95,16),(2020.915,98,14),(2020.955,100,16),(2020.995,102,14),(2021.035,98,16),(2021.075,100,14),
    (2021.115,100,16),(2021.155,102,14),(2021.195,105,16),(2021.235,110,14),(2021.275,120,16),
    (2021.355,165,16),(2021.375,172,10),(2021.395,185,14),(2021.415,190,12),(2021.435,200,16),(2021.455,208,10),
    (2021.475,195,14),(2021.495,200,12),(2021.515,185,16),(2021.535,170,10),(2021.555,160,14),(2021.575,165,12),
    (2021.595,190,16),(2021.615,200,10),
    (2021.705,78,16),(2021.715,70,10),(2021.725,62,14),(2021.735,58,12),(2021.745,52,16),(2021.755,48,10),
    (2021.765,45,14),(2021.775,42,12),(2021.785,40,16),(2021.795,45,10),(2021.805,48,14),(2021.815,52,12),
    (2021.825,55,16),(2021.835,50,10),(2021.845,58,14),(2021.855,55,12),(2021.865,60,16),(2021.875,62,10),
    (2021.885,58,14),
    (2016.515,95,16),(2016.555,90,14),(2016.595,92,16),(2016.635,88,14),(2016.675,85,16),(2016.715,80,14),
    (2016.775,100,16),(2016.815,105,14),(2016.855,112,16),(2016.895,108,14),(2016.935,100,16),(2016.975,108,14),
    (2017.015,110,16),(2017.055,105,14),(2017.095,108,16),(2017.135,105,14),(2017.175,102,16),(2017.215,108,14),
    (2017.255,112,16),(2017.295,115,14),
    (2018.605,108,16),(2018.645,105,14),(2018.685,102,16),(2018.865,88,16),(2018.905,80,14),(2018.945,82,16),
    (2018.985,90,14),(2019.025,95,16),(2019.065,90,14),(2019.105,92,16),(2019.145,95,14),(2019.185,98,16),
    (2019.225,100,14),(2019.265,105,16),
    (2016.20,180,5),(2016.52,150,5),(2016.80,140,5),(2017.00,150,5),(2017.15,135,5),(2017.30,180,5),
    (2017.55,100,5),(2017.66,120,5),(2017.78,95,5),(2017.90,140,5),(2018.15,140,5),(2018.36,75,5),
    (2018.48,150,5),(2018.58,170,5),(2018.72,120,5),(2018.95,120,5),(2019.20,75,5),(2019.40,140,5),
    (2019.45,230,5),(2019.62,150,5),(2019.88,110,5),(2020.05,115,5),(2020.22,130,5),(2020.40,130,5),
    (2020.58,140,5),(2020.70,115,5),(2020.85,130,5),(2021.05,130,5),(2021.25,150,5),(2021.38,230,5),
    (2021.50,250,5),(2021.62,270,5),(2021.72,100,5),(2021.84,25,5),(2021.96,150,5),(2020.55,270,5),
    (2019.30,80,5),(2018.25,85,5),(2017.85,80,5),
]

PANELS = [
    ("(a)", "1 km from terminus", is_1km_pairs + is_1km_pairs_extra,
     ks_1km_pairs + ks_1km_pairs_extra, is_1km_line, ks_1km_line),
    ("(b)", "10 km from terminus", is_10km_pairs + is_10km_pairs_extra,
     ks_10km_pairs + ks_10km_pairs_extra, is_10km_line, ks_10km_line),
]


def pair_segments(pairs):
    arr = np.asarray(pairs, dtype=float)
    half = arr[:, 2] / 365.25 / 2.0
    starts = np.column_stack([arr[:, 0] - half, arr[:, 1]])
    ends = np.column_stack([arr[:, 0] + half, arr[:, 1]])
    return np.stack([starts, ends], axis=1)


W, H = 1320, 882
fig = plt.figure(figsize=(W / 100, H / 100), dpi=100)
ax_height = 381 / H
axes = [
    fig.add_axes([120 / W, 1 - 390 / H, 1167 / W, ax_height]),
    fig.add_axes([120 / W, 1 - 808 / H, 1167 / W, ax_height]),
]

FS = 16
for ax, (tag, title, is_pairs, ks_pairs, is_line, ks_line) in zip(axes, PANELS):
    for pairs, color in ((is_pairs, IS_COLOR), (ks_pairs, KS_COLOR)):
        lc = LineCollection(pair_segments(pairs), colors=color, linewidths=2.1,
                            alpha=0.55, capstyle="butt", zorder=1)
        ax.add_collection(lc)
    for line, color, name in ((is_line, IS_COLOR, "IS"), (ks_line, KS_COLOR, "KS")):
        arr = np.asarray(line, dtype=float)
        ax.plot(arr[:, 0], arr[:, 1], color=color, lw=1.8, zorder=3, label=name)

    ax.set_xlim(YEARS[0], YEARS[-1])
    ax.set_ylim(-10, 345)
    ax.set_xticks(YEARS)
    ax.xaxis.set_minor_locator(MultipleLocator(0.25))
    ax.set_yticks(Y_TICKS)
    ax.set_xticklabels([str(y) for y in YEARS])

    for side in ("top", "right"):
        ax.spines[side].set_visible(False)
    ax.spines["left"].set_bounds(Y_TICKS[0], Y_TICKS[-1])
    ax.spines["bottom"].set_bounds(YEARS[0], YEARS[-1])
    for side in ("left", "bottom"):
        ax.spines[side].set_linewidth(1.6)

    ax.tick_params(axis="both", which="major", direction="out", length=7, width=1.5,
                   labelsize=FS, pad=8)
    ax.tick_params(axis="x", which="minor", direction="out", length=4.5, width=1.3)

    ax.set_ylabel("Velocity (m yr$^{-1}$)", fontsize=FS)
    ax.yaxis.set_label_coords(-0.066, 0.5)

    ax.text(0.021, 0.90, tag, transform=ax.transAxes, fontsize=23, va="center", ha="left")
    ax.text(0.1217, 0.90, title, transform=ax.transAxes, fontsize=20.5, va="center", ha="left")

axes[0].tick_params(axis="x", labelbottom=False)
axes[1].set_xlabel("Year", fontsize=FS)
axes[1].xaxis.set_label_coords(0.5, -0.14)

handles = [Line2D([], [], color=IS_COLOR, lw=2.6), Line2D([], [], color=KS_COLOR, lw=2.6)]
leg = fig.legend(handles, SERIES, loc="upper left", bbox_to_anchor=(852 / W, 1 - 418 / H),
                 ncol=2, fontsize=FS, handlelength=2.2, handletextpad=0.85,
                 columnspacing=2.1, borderaxespad=0.0, borderpad=0.35, frameon=True,
                 fancybox=True, edgecolor="0.8", framealpha=1.0)
leg.get_frame().set_linewidth(1.5)

fig.savefig("out.png", dpi=100)
